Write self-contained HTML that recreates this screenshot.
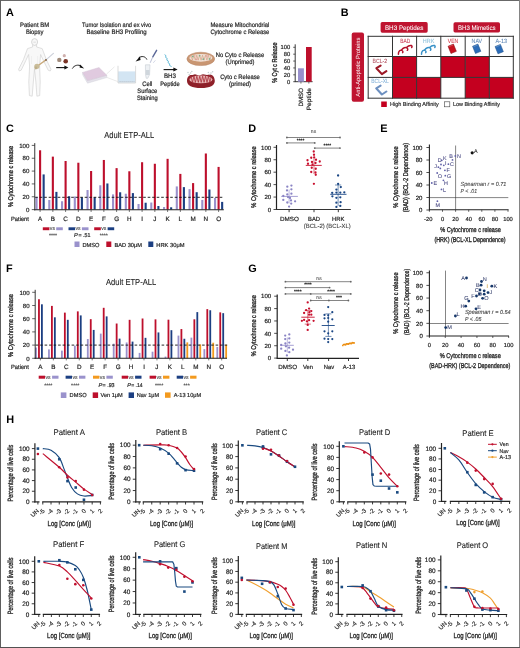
<!DOCTYPE html><html><head><meta charset="utf-8"><style>html,body{margin:0;padding:0;background:#fff}svg{display:block;will-change:transform}text{font-family:"Liberation Sans",sans-serif;text-rendering:geometricPrecision}</style></head><body>
<svg width="520" height="648" viewBox="0 0 520 648">
<rect x="0" y="0" width="520" height="648" fill="#fff"/>
<text x="6.10" y="15.90" font-size="10.9" fill="#000" font-weight="bold">A</text>
<text x="34.60" y="26.90" font-size="6.4" fill="#262626" stroke="#262626" stroke-width="0.2" text-anchor="middle" textLength="29" lengthAdjust="spacingAndGlyphs">Patient BM</text>
<text x="34.70" y="33.80" font-size="6.4" fill="#262626" stroke="#262626" stroke-width="0.2" text-anchor="middle" textLength="17.6" lengthAdjust="spacingAndGlyphs">Biopsy</text>
<text x="116.60" y="27.30" font-size="6.4" fill="#262626" stroke="#262626" stroke-width="0.2" text-anchor="middle" textLength="69.2" lengthAdjust="spacingAndGlyphs">Tumor Isolation and ex vivo</text>
<text x="116.60" y="34.20" font-size="6.4" fill="#262626" stroke="#262626" stroke-width="0.2" text-anchor="middle" textLength="60.1" lengthAdjust="spacingAndGlyphs">Baseline BH3 Profiling</text>
<text x="210.40" y="26.90" font-size="6.4" fill="#262626" stroke="#262626" stroke-width="0.2" textLength="58.9" lengthAdjust="spacingAndGlyphs">Measure Mitochondrial</text>
<text x="210.40" y="34.20" font-size="6.4" fill="#262626" stroke="#262626" stroke-width="0.2" textLength="58.9" lengthAdjust="spacingAndGlyphs">Cytochrome c Release</text>
<path d="M32.6,45 L32.6,47 L27.5,48.6 L23.5,59.5 L18.6,69.3 L19.3,71 L21.2,70.2 L25.8,60.5 L28.6,54.5 L29.6,66 L28.8,82 L29.4,95.6 L32.2,96.2 L33.3,82 L34.5,69 L35.9,82 L36.9,96.2 L39.7,95.6 L40.2,82 L39.6,66 L40.6,54.5 L43.4,60.5 L48.2,70.2 L50.2,71 L51,69.3 L46.3,59.5 L42.2,48.6 L36.6,47 L36.6,45" fill="#f8f8f8" stroke="#d2d2d2" stroke-width="0.7" stroke-linejoin="round"/>
<ellipse cx="34.6" cy="42.0" rx="3.0" ry="3.4" fill="#f8f8f8" stroke="#c8c8c8" stroke-width="0.7"/>
<line x1="33.30" y1="42.20" x2="35.90" y2="42.20" stroke="#d8d8d8" stroke-width="0.8"/>
<line x1="31.50" y1="56.00" x2="31.50" y2="64.00" stroke="#e6e6e6" stroke-width="0.5"/>
<line x1="37.60" y1="56.00" x2="37.60" y2="64.00" stroke="#e6e6e6" stroke-width="0.5"/>
<line x1="37.20" y1="66.20" x2="46.00" y2="59.90" stroke="#c9aa7c" stroke-width="1.3" stroke-linecap="round"/>
<line x1="46.00" y1="59.90" x2="53.40" y2="53.40" stroke="#ccd0da" stroke-width="1.2" stroke-linecap="round"/>
<circle cx="46.00" cy="59.90" r="0.95" fill="#7a5a40"/>
<circle cx="36.90" cy="66.30" r="2.6" fill="#c9bc98"/>
<circle cx="35.80" cy="68.00" r="1.4" fill="#bdae88"/>
<circle cx="64.30" cy="55.70" r="1.6" fill="#cfb0ad"/>
<circle cx="59.30" cy="59.90" r="2.2" fill="#a08a7a"/>
<circle cx="65.70" cy="61.20" r="2.3" fill="#7a3426"/>
<line x1="56.20" y1="67.60" x2="65.50" y2="67.60" stroke="#111" stroke-width="1.1"/>
<path d="M64.4,65.6 L68.4,67.6 L64.4,69.6 Z" fill="#111"/>
<path d="M72.3,68.6 C74,65.2 78.5,64.2 81.3,66.2" fill="none" stroke="#111" stroke-width="0.9"/>
<path d="M80,64.4 L84.2,68.6 L79.6,67.6 Z" fill="#111"/>
<path d="M82.6,72.4 L82.6,74.8 L87.5,83.2 L106.8,77.6 L106.8,75.2 L87.5,80.6 Z" fill="#e4e2ea" stroke="#cfcfd6" stroke-width="0.4"/>
<path d="M82.6,72.4 L99,67.5 L106.8,75.2 L87.5,80.6 Z" fill="#e0cadf" stroke="#d0c0d2" stroke-width="0.4"/>
<line x1="106.40" y1="74.20" x2="114.50" y2="66.80" stroke="#d4d4d4" stroke-width="0.5"/>
<line x1="106.80" y1="77.40" x2="117.60" y2="81.50" stroke="#d4d4d4" stroke-width="0.5"/>
<rect x="118.20" y="71.40" width="17.20" height="11.20" fill="#d3e5f3"/>
<path d="M118,65.8 L118,83 L135.6,83 L135.6,65.8" fill="none" stroke="#c4c4c4" stroke-width="0.6"/>
<line x1="119.50" y1="81.60" x2="134.50" y2="81.60" stroke="#b8bcc4" stroke-width="0.8" stroke-dasharray="1.2,0.8"/>
<path d="M146.9,59.6 C145.5,56.2 141.5,55.6 138.6,58" fill="none" stroke="#111" stroke-width="0.9"/>
<path d="M139.9,56.4 L135.6,61.4 L140.6,60 Z" fill="#111"/>
<line x1="156.60" y1="50.30" x2="152.80" y2="56.80" stroke="#5b6898" stroke-width="1.4" stroke-linecap="round"/>
<line x1="152.80" y1="56.80" x2="150.20" y2="62.80" stroke="#aab0cc" stroke-width="0.8"/>
<line x1="155.40" y1="60.30" x2="153.30" y2="62.80" stroke="#c8cde0" stroke-width="0.8"/>
<path d="M145.4,64.8 L150,64.8 L149.6,74.5 L147.8,78.3 L146.2,78.3 L145.5,74.5 Z" fill="#eef1f4" stroke="#bfc5cc" stroke-width="0.5"/>
<rect x="145.80" y="70.00" width="3.80" height="5.00" fill="#cfd6dc"/>
<path d="M164.6,54.6 L166,55.7 L165.6,57.4 L167.2,58.4 L166.8,60.1 L168.4,61.1 L168.1,62.8 L169.7,63.8 L169.5,65.4 L171.6,66.6" fill="none" stroke="#58b4d4" stroke-width="0.9"/>
<line x1="163.60" y1="69.60" x2="174.50" y2="69.60" stroke="#111" stroke-width="1.1"/>
<path d="M173.4,67.6 L177.6,69.6 L173.4,71.6 Z" fill="#111"/>
<text x="147.30" y="85.70" font-size="6.4" fill="#262626" stroke="#262626" stroke-width="0.2" text-anchor="middle" textLength="10" lengthAdjust="spacingAndGlyphs">Cell</text>
<text x="147.30" y="93.10" font-size="6.4" fill="#262626" stroke="#262626" stroke-width="0.2" text-anchor="middle" textLength="20" lengthAdjust="spacingAndGlyphs">Surface</text>
<text x="147.30" y="100.40" font-size="6.4" fill="#262626" stroke="#262626" stroke-width="0.2" text-anchor="middle" textLength="20.8" lengthAdjust="spacingAndGlyphs">Staining</text>
<text x="170.00" y="78.10" font-size="6.4" fill="#262626" stroke="#262626" stroke-width="0.2" text-anchor="middle" textLength="12" lengthAdjust="spacingAndGlyphs">BH3</text>
<text x="170.00" y="85.70" font-size="6.4" fill="#262626" stroke="#262626" stroke-width="0.2" text-anchor="middle" textLength="19.4" lengthAdjust="spacingAndGlyphs">Peptide</text>
<ellipse cx="200.8" cy="58.9" rx="13.9" ry="6.7" fill="#c99672" stroke="#b58060" stroke-width="0.5"/>
<ellipse cx="200.8" cy="57.8" rx="11.6" ry="3.9" fill="#f1e2d8"/>
<path d="M189.5,58 L190.95,55.20 L192.40,60.20 L193.85,55.20 L195.30,60.20 L196.75,55.20 L198.20,60.20 L199.65,55.20 L201.10,60.20 L202.55,55.20 L204.00,60.20 L205.45,55.20 L206.90,60.20 L208.35,55.20 L209.80,60.20 L211.25,55.20" fill="none" stroke="#d2a284" stroke-width="0.7"/>
<circle cx="192.80" cy="56.40" r="0.85" fill="#7fb08a"/>
<circle cx="196.50" cy="59.40" r="0.85" fill="#e5a0a0"/>
<circle cx="199.60" cy="55.60" r="0.85" fill="#7fb08a"/>
<circle cx="203.20" cy="59.20" r="0.85" fill="#7fb08a"/>
<circle cx="206.80" cy="55.90" r="0.85" fill="#e5a0a0"/>
<circle cx="209.50" cy="58.90" r="0.85" fill="#7fb08a"/>
<circle cx="194.80" cy="55.80" r="0.85" fill="#e8b0a8"/>
<path d="M187,81 C187,76.5 189.5,74.6 192.5,75 L195,74.2 L199,75.4 L203,74.2 L207,75 L209.5,74.4 C212.6,74.4 214.8,77 214.8,81 C214.8,85.6 210,88 201,88 C192,88 187,85.6 187,81 Z" fill="#8e2029"/>
<ellipse cx="200.9" cy="79.4" rx="11.6" ry="3.9" fill="#e9b8b8"/>
<path d="M189.6,79.5 L191.05,76.20 L192.50,82.40 L193.95,76.20 L195.40,82.40 L196.85,76.20 L198.30,82.40 L199.75,76.20 L201.20,82.40 L202.65,76.20 L204.10,82.40 L205.55,76.20 L207.00,82.40 L208.45,76.20 L209.90,82.40 L211.35,76.20" fill="none" stroke="#a8303a" stroke-width="0.8"/>
<circle cx="188.00" cy="72.40" r="0.75" fill="#c4cdd0"/>
<circle cx="190.60" cy="73.00" r="0.75" fill="#c4cdd0"/>
<circle cx="189.20" cy="74.60" r="0.75" fill="#c4cdd0"/>
<circle cx="191.80" cy="71.60" r="0.75" fill="#c4cdd0"/>
<circle cx="208.40" cy="72.60" r="0.75" fill="#c4cdd0"/>
<circle cx="211.00" cy="73.10" r="0.75" fill="#c4cdd0"/>
<circle cx="212.60" cy="71.80" r="0.75" fill="#c4cdd0"/>
<circle cx="209.80" cy="74.40" r="0.75" fill="#c4cdd0"/>
<text x="240.00" y="57.00" font-size="6.4" fill="#262626" stroke="#262626" stroke-width="0.2" text-anchor="middle" textLength="48.4" lengthAdjust="spacingAndGlyphs">No Cyto c Release</text>
<text x="240.00" y="64.20" font-size="6.4" fill="#262626" stroke="#262626" stroke-width="0.2" text-anchor="middle" textLength="28.8" lengthAdjust="spacingAndGlyphs">(Unprimed)</text>
<text x="240.00" y="78.60" font-size="6.4" fill="#262626" stroke="#262626" stroke-width="0.2" text-anchor="middle" textLength="39.7" lengthAdjust="spacingAndGlyphs">Cyto c Release</text>
<text x="240.00" y="85.50" font-size="6.4" fill="#262626" stroke="#262626" stroke-width="0.2" text-anchor="middle" textLength="22" lengthAdjust="spacingAndGlyphs">(primed)</text>
<line x1="295.20" y1="44.30" x2="295.20" y2="81.70" stroke="#222" stroke-width="0.9"/>
<line x1="294.75" y1="81.70" x2="312.60" y2="81.70" stroke="#222" stroke-width="0.9"/>
<line x1="293.20" y1="81.70" x2="295.20" y2="81.70" stroke="#222" stroke-width="0.7"/>
<text x="290.20" y="83.70" font-size="5.8" fill="#262626" stroke="#262626" stroke-width="0.2" text-anchor="end">0</text>
<line x1="293.20" y1="74.82" x2="295.20" y2="74.82" stroke="#222" stroke-width="0.7"/>
<text x="290.20" y="76.82" font-size="5.8" fill="#262626" stroke="#262626" stroke-width="0.2" text-anchor="end">20</text>
<line x1="293.20" y1="67.94" x2="295.20" y2="67.94" stroke="#222" stroke-width="0.7"/>
<text x="290.20" y="69.94" font-size="5.8" fill="#262626" stroke="#262626" stroke-width="0.2" text-anchor="end">40</text>
<line x1="293.20" y1="61.06" x2="295.20" y2="61.06" stroke="#222" stroke-width="0.7"/>
<text x="290.20" y="63.06" font-size="5.8" fill="#262626" stroke="#262626" stroke-width="0.2" text-anchor="end">60</text>
<line x1="293.20" y1="54.18" x2="295.20" y2="54.18" stroke="#222" stroke-width="0.7"/>
<text x="290.20" y="56.18" font-size="5.8" fill="#262626" stroke="#262626" stroke-width="0.2" text-anchor="end">80</text>
<line x1="293.20" y1="47.30" x2="295.20" y2="47.30" stroke="#222" stroke-width="0.7"/>
<text x="290.20" y="49.30" font-size="5.8" fill="#262626" stroke="#262626" stroke-width="0.2" text-anchor="end">100</text>
<rect x="298.00" y="68.30" width="5.90" height="13.40" fill="#9890cc"/>
<rect x="306.00" y="47.00" width="5.70" height="34.70" fill="#bd0f2c"/>
<line x1="300.95" y1="81.70" x2="300.95" y2="83.60" stroke="#222" stroke-width="0.6"/>
<line x1="308.85" y1="81.70" x2="308.85" y2="83.60" stroke="#222" stroke-width="0.6"/>
<text transform="translate(303.10,88.00) rotate(-90)" font-size="6.2" fill="#262626" stroke="#262626" stroke-width="0.2" text-anchor="end" textLength="18.6" lengthAdjust="spacingAndGlyphs">DMSO</text>
<text transform="translate(310.50,88.00) rotate(-90)" font-size="6.2" fill="#262626" stroke="#262626" stroke-width="0.2" text-anchor="end" textLength="22.3" lengthAdjust="spacingAndGlyphs">Peptide</text>
<text transform="translate(277.20,62.60) rotate(-90)" font-size="7.2" fill="#262626" stroke="#262626" stroke-width="0.32" text-anchor="middle" textLength="40.5" lengthAdjust="spacingAndGlyphs">% Cyt c Release</text>
<text x="340.70" y="15.70" font-size="10.9" fill="#000" font-weight="bold">B</text>
<rect x="380.6" y="22.1" width="47.1" height="10.6" rx="1.6" fill="#bf1430"/>
<text x="404.15" y="29.90" font-size="6.4" fill="#fff" stroke="#fff" stroke-width="0.05" text-anchor="middle" textLength="38.5" lengthAdjust="spacingAndGlyphs">BH3 Peptides</text>
<rect x="453.5" y="22.3" width="46.5" height="10.1" rx="1.6" fill="#bf1430"/>
<text x="476.75" y="29.90" font-size="6.4" fill="#fff" stroke="#fff" stroke-width="0.05" text-anchor="middle" textLength="37.5" lengthAdjust="spacingAndGlyphs">BH3 Mimetics</text>
<rect x="351.7" y="32.6" width="12.3" height="69.1" rx="2" fill="#bf1430"/>
<text transform="translate(360.00,67.20) rotate(-90)" font-size="6.0" fill="#fff" text-anchor="middle" textLength="59" lengthAdjust="spacingAndGlyphs">Anti-Apoptotic Proteins</text>
<rect x="392.50" y="56.50" width="24.10" height="20.90" fill="#c4001f"/>
<rect x="440.80" y="56.50" width="24.40" height="20.90" fill="#c4001f"/>
<rect x="465.20" y="56.50" width="24.10" height="20.90" fill="#c4001f"/>
<rect x="392.50" y="77.40" width="24.10" height="20.80" fill="#c4001f"/>
<rect x="416.60" y="77.40" width="24.20" height="20.80" fill="#c4001f"/>
<rect x="465.20" y="77.40" width="24.10" height="20.80" fill="#c4001f"/>
<rect x="489.30" y="77.40" width="24.00" height="20.80" fill="#c4001f"/>
<line x1="368.20" y1="35.80" x2="368.20" y2="98.70" stroke="#333" stroke-width="1.0"/>
<line x1="392.50" y1="35.80" x2="392.50" y2="98.70" stroke="#333" stroke-width="1.0"/>
<line x1="416.60" y1="35.80" x2="416.60" y2="98.70" stroke="#333" stroke-width="1.0"/>
<line x1="440.80" y1="35.80" x2="440.80" y2="98.70" stroke="#333" stroke-width="1.0"/>
<line x1="465.20" y1="35.80" x2="465.20" y2="98.70" stroke="#333" stroke-width="1.0"/>
<line x1="489.30" y1="35.80" x2="489.30" y2="98.70" stroke="#333" stroke-width="1.0"/>
<line x1="513.30" y1="35.80" x2="513.30" y2="98.70" stroke="#333" stroke-width="1.0"/>
<line x1="367.70" y1="36.30" x2="513.80" y2="36.30" stroke="#333" stroke-width="1.0"/>
<line x1="367.70" y1="56.50" x2="513.80" y2="56.50" stroke="#333" stroke-width="1.0"/>
<line x1="367.70" y1="77.40" x2="513.80" y2="77.40" stroke="#333" stroke-width="1.0"/>
<line x1="367.70" y1="98.20" x2="513.80" y2="98.20" stroke="#333" stroke-width="1.0"/>
<text x="405.20" y="42.50" font-size="6.0" fill="#c8304c" stroke="#c8304c" stroke-width="0.05" text-anchor="middle" textLength="10.1" lengthAdjust="spacingAndGlyphs">BAD</text>
<text x="428.60" y="42.50" font-size="6.0" fill="#86bcd8" stroke="#86bcd8" stroke-width="0.05" text-anchor="middle" textLength="11.5" lengthAdjust="spacingAndGlyphs">HRK</text>
<text x="453.00" y="42.50" font-size="6.0" fill="#d0303e" stroke="#d0303e" stroke-width="0.05" text-anchor="middle" textLength="10.4" lengthAdjust="spacingAndGlyphs">VEN</text>
<text x="476.80" y="42.50" font-size="6.0" fill="#5a84b4" stroke="#5a84b4" stroke-width="0.05" text-anchor="middle" textLength="10.4" lengthAdjust="spacingAndGlyphs">NAV</text>
<text x="501.20" y="42.50" font-size="6.0" fill="#5a84b4" stroke="#5a84b4" stroke-width="0.05" text-anchor="middle" textLength="11.6" lengthAdjust="spacingAndGlyphs">A-13</text>
<path d="M398.40,54.2 C398.20,51 400.50,49.5 402.00,50.5 C403.00,51.2 403.20,52.3 402.60,52.6 M401.50,50.2 C403.00,47.8 405.50,47 407.00,48 C408.00,48.8 407.90,50 407.30,50.3 M406.50,47.6 C408.00,46 410.00,45.2 411.60,45.6 C412.20,46 412.10,47 411.70,47.4" fill="none" stroke="#b3102a" stroke-width="1.5" stroke-linecap="round"/>
<path d="M421.50,54.2 C421.30,51 423.60,49.5 425.10,50.5 C426.10,51.2 426.30,52.3 425.70,52.6 M424.60,50.2 C426.10,47.8 428.60,47 430.10,48 C431.10,48.8 431.00,50 430.40,50.3 M429.60,47.6 C431.10,46 433.10,45.2 434.70,45.6 C435.30,46 435.20,47 434.80,47.4" fill="none" stroke="#3a92c8" stroke-width="1.5" stroke-linecap="round"/>
<g transform="translate(452.2,48.8) rotate(-22)"><rect x="-2.9" y="-3.9" width="5.8" height="7.8" fill="#c8101c" stroke="#8a0c14" stroke-width="0.5"/><line x1="-2.3" y1="-3.2" x2="2.3" y2="-3.2" stroke="#fff" stroke-opacity="0.35" stroke-width="0.6"/></g>
<g transform="translate(476.7,48.8) rotate(-22)"><rect x="-2.9" y="-3.9" width="5.8" height="7.8" fill="#2b6cb8" stroke="#1d4f8c" stroke-width="0.5"/><line x1="-2.3" y1="-3.2" x2="2.3" y2="-3.2" stroke="#fff" stroke-opacity="0.35" stroke-width="0.6"/></g>
<g transform="translate(499.2,49.1) rotate(-22)"><rect x="-2.9" y="-3.9" width="5.8" height="7.8" fill="#2b6cb8" stroke="#1d4f8c" stroke-width="0.5"/><line x1="-2.3" y1="-3.2" x2="2.3" y2="-3.2" stroke="#fff" stroke-opacity="0.35" stroke-width="0.6"/></g>
<text x="379.80" y="62.60" font-size="6.0" fill="#b04858" stroke="#b04858" stroke-width="0.05" text-anchor="middle" textLength="14.6" lengthAdjust="spacingAndGlyphs">BCL-2</text>
<text x="380.00" y="83.20" font-size="6.0" fill="#80b0d8" stroke="#80b0d8" stroke-width="0.05" text-anchor="middle" textLength="17.7" lengthAdjust="spacingAndGlyphs">BCL-XL</text>
<path d="M380.6,65.6 L376.4,68.2 L381.9,74.1 L386.4,71.2" fill="none" stroke="#9c1826" stroke-width="2.1" stroke-linejoin="round" stroke-linecap="round"/>
<path d="M380.6,85.7 L376.2,88.3 L381.9,94.5 L386.4,91.5" fill="none" stroke="#6d90c0" stroke-width="2.1" stroke-linejoin="round" stroke-linecap="round"/>
<rect x="381.20" y="101.50" width="5.60" height="5.50" fill="#c4001f"/>
<text x="390.00" y="106.40" font-size="5.7" fill="#333" stroke="#333" stroke-width="0.2" textLength="48.7" lengthAdjust="spacingAndGlyphs">High Binding Affinity</text>
<rect x="444.60" y="101.80" width="5.20" height="5.00" fill="#fff" stroke="#444" stroke-width="0.6"/>
<text x="453.00" y="106.40" font-size="5.7" fill="#333" stroke="#333" stroke-width="0.2" textLength="47" lengthAdjust="spacingAndGlyphs">Low Binding Affinity</text>
<text x="5.90" y="131.70" font-size="10.9" fill="#000" font-weight="bold">C</text>
<text x="129.20" y="137.80" font-size="8.7" fill="#222" stroke="#222" stroke-width="0.1" text-anchor="middle" textLength="50" lengthAdjust="spacingAndGlyphs">Adult ETP-ALL</text>
<rect x="35.50" y="196.89" width="2.10" height="12.71" fill="#9a92cc"/>
<rect x="39.05" y="150.28" width="2.10" height="59.32" fill="#bd0f2c"/>
<rect x="42.60" y="174.42" width="2.10" height="35.18" fill="#1c3f82"/>
<line x1="40.10" y1="209.80" x2="40.10" y2="212.00" stroke="#222" stroke-width="0.6"/>
<text x="40.10" y="220.80" font-size="6.3" fill="#262626" stroke="#262626" stroke-width="0.2" text-anchor="middle">A</text>
<rect x="48.25" y="199.97" width="2.10" height="9.63" fill="#9a92cc"/>
<rect x="51.80" y="156.63" width="2.10" height="52.97" fill="#bd0f2c"/>
<rect x="55.35" y="191.88" width="2.10" height="17.72" fill="#1c3f82"/>
<line x1="52.85" y1="209.80" x2="52.85" y2="212.00" stroke="#222" stroke-width="0.6"/>
<text x="52.85" y="220.80" font-size="6.3" fill="#262626" stroke="#262626" stroke-width="0.2" text-anchor="middle">B</text>
<rect x="61.00" y="201.25" width="2.10" height="8.35" fill="#9a92cc"/>
<rect x="64.55" y="161.00" width="2.10" height="48.60" fill="#bd0f2c"/>
<rect x="68.10" y="196.25" width="2.10" height="13.35" fill="#1c3f82"/>
<line x1="65.60" y1="209.80" x2="65.60" y2="212.00" stroke="#222" stroke-width="0.6"/>
<text x="65.60" y="220.80" font-size="6.3" fill="#262626" stroke="#262626" stroke-width="0.2" text-anchor="middle">C</text>
<rect x="73.75" y="196.50" width="2.10" height="13.10" fill="#9a92cc"/>
<rect x="77.30" y="162.73" width="2.10" height="46.87" fill="#bd0f2c"/>
<rect x="80.85" y="197.27" width="2.10" height="12.33" fill="#1c3f82"/>
<line x1="78.35" y1="209.80" x2="78.35" y2="212.00" stroke="#222" stroke-width="0.6"/>
<text x="78.35" y="220.80" font-size="6.3" fill="#262626" stroke="#262626" stroke-width="0.2" text-anchor="middle">D</text>
<rect x="86.50" y="190.02" width="2.10" height="19.58" fill="#9a92cc"/>
<rect x="90.05" y="171.02" width="2.10" height="38.58" fill="#bd0f2c"/>
<rect x="93.60" y="197.27" width="2.10" height="12.33" fill="#1c3f82"/>
<line x1="91.10" y1="209.80" x2="91.10" y2="212.00" stroke="#222" stroke-width="0.6"/>
<text x="91.10" y="220.80" font-size="6.3" fill="#262626" stroke="#262626" stroke-width="0.2" text-anchor="middle">E</text>
<rect x="99.25" y="185.27" width="2.10" height="24.33" fill="#9a92cc"/>
<rect x="102.80" y="159.97" width="2.10" height="49.63" fill="#bd0f2c"/>
<rect x="106.35" y="183.47" width="2.10" height="26.13" fill="#1c3f82"/>
<line x1="103.85" y1="209.80" x2="103.85" y2="212.00" stroke="#222" stroke-width="0.6"/>
<text x="103.85" y="220.80" font-size="6.3" fill="#262626" stroke="#262626" stroke-width="0.2" text-anchor="middle">F</text>
<rect x="112.00" y="194.38" width="2.10" height="15.22" fill="#9a92cc"/>
<rect x="115.55" y="168.13" width="2.10" height="41.47" fill="#bd0f2c"/>
<rect x="119.10" y="192.27" width="2.10" height="17.33" fill="#1c3f82"/>
<line x1="116.60" y1="209.80" x2="116.60" y2="212.00" stroke="#222" stroke-width="0.6"/>
<text x="116.60" y="220.80" font-size="6.3" fill="#262626" stroke="#262626" stroke-width="0.2" text-anchor="middle">G</text>
<rect x="124.75" y="193.74" width="2.10" height="15.86" fill="#9a92cc"/>
<rect x="128.30" y="171.27" width="2.10" height="38.33" fill="#bd0f2c"/>
<rect x="131.85" y="193.10" width="2.10" height="16.50" fill="#1c3f82"/>
<line x1="129.35" y1="209.80" x2="129.35" y2="212.00" stroke="#222" stroke-width="0.6"/>
<text x="129.35" y="220.80" font-size="6.3" fill="#262626" stroke="#262626" stroke-width="0.2" text-anchor="middle">H</text>
<rect x="137.50" y="204.01" width="2.10" height="5.59" fill="#9a92cc"/>
<rect x="141.05" y="162.22" width="2.10" height="47.38" fill="#bd0f2c"/>
<rect x="144.60" y="202.73" width="2.10" height="6.87" fill="#1c3f82"/>
<line x1="142.10" y1="209.80" x2="142.10" y2="212.00" stroke="#222" stroke-width="0.6"/>
<text x="142.10" y="220.80" font-size="6.3" fill="#262626" stroke="#262626" stroke-width="0.2" text-anchor="middle">I</text>
<rect x="150.25" y="202.54" width="2.10" height="7.06" fill="#9a92cc"/>
<rect x="153.80" y="163.76" width="2.10" height="45.84" fill="#bd0f2c"/>
<rect x="157.35" y="206.00" width="2.10" height="3.60" fill="#1c3f82"/>
<line x1="154.85" y1="209.80" x2="154.85" y2="212.00" stroke="#222" stroke-width="0.6"/>
<text x="154.85" y="220.80" font-size="6.3" fill="#262626" stroke="#262626" stroke-width="0.2" text-anchor="middle">J</text>
<rect x="163.00" y="207.03" width="2.10" height="2.57" fill="#9a92cc"/>
<rect x="166.55" y="158.82" width="2.10" height="50.78" fill="#bd0f2c"/>
<rect x="170.10" y="207.29" width="2.10" height="2.31" fill="#1c3f82"/>
<line x1="167.60" y1="209.80" x2="167.60" y2="212.00" stroke="#222" stroke-width="0.6"/>
<text x="167.60" y="220.80" font-size="6.3" fill="#262626" stroke="#262626" stroke-width="0.2" text-anchor="middle">K</text>
<rect x="175.75" y="186.42" width="2.10" height="23.18" fill="#9a92cc"/>
<rect x="179.30" y="173.90" width="2.10" height="35.70" fill="#bd0f2c"/>
<rect x="182.85" y="187.13" width="2.10" height="22.47" fill="#1c3f82"/>
<line x1="180.35" y1="209.80" x2="180.35" y2="212.00" stroke="#222" stroke-width="0.6"/>
<text x="180.35" y="220.80" font-size="6.3" fill="#262626" stroke="#262626" stroke-width="0.2" text-anchor="middle">L</text>
<rect x="188.50" y="189.12" width="2.10" height="20.48" fill="#9a92cc"/>
<rect x="192.05" y="183.09" width="2.10" height="26.51" fill="#bd0f2c"/>
<rect x="195.60" y="192.20" width="2.10" height="17.40" fill="#1c3f82"/>
<line x1="193.10" y1="209.80" x2="193.10" y2="212.00" stroke="#222" stroke-width="0.6"/>
<text x="193.10" y="220.80" font-size="6.3" fill="#262626" stroke="#262626" stroke-width="0.2" text-anchor="middle">M</text>
<rect x="201.25" y="199.91" width="2.10" height="9.69" fill="#9a92cc"/>
<rect x="204.80" y="153.49" width="2.10" height="56.11" fill="#bd0f2c"/>
<rect x="208.35" y="189.51" width="2.10" height="20.09" fill="#1c3f82"/>
<line x1="205.85" y1="209.80" x2="205.85" y2="212.00" stroke="#222" stroke-width="0.6"/>
<text x="205.85" y="220.80" font-size="6.3" fill="#262626" stroke="#262626" stroke-width="0.2" text-anchor="middle">N</text>
<rect x="214.00" y="197.92" width="2.10" height="11.68" fill="#9a92cc"/>
<rect x="217.55" y="166.91" width="2.10" height="42.69" fill="#bd0f2c"/>
<rect x="221.10" y="201.90" width="2.10" height="7.70" fill="#1c3f82"/>
<line x1="218.60" y1="209.80" x2="218.60" y2="212.00" stroke="#222" stroke-width="0.6"/>
<text x="218.60" y="220.80" font-size="6.3" fill="#262626" stroke="#262626" stroke-width="0.2" text-anchor="middle">O</text>
<line x1="35.20" y1="197.30" x2="224.00" y2="197.30" stroke="#111" stroke-width="0.9" stroke-dasharray="2.6,1.9"/>
<line x1="34.75" y1="143.10" x2="34.75" y2="210.40" stroke="#222" stroke-width="0.9"/>
<line x1="34.30" y1="209.80" x2="223.80" y2="209.80" stroke="#222" stroke-width="1.1"/>
<line x1="31.75" y1="209.60" x2="34.75" y2="209.60" stroke="#222" stroke-width="0.7"/>
<text x="29.40" y="211.80" font-size="6.1" fill="#262626" stroke="#262626" stroke-width="0.2" text-anchor="end">0</text>
<line x1="31.75" y1="196.76" x2="34.75" y2="196.76" stroke="#222" stroke-width="0.7"/>
<text x="29.40" y="198.96" font-size="6.1" fill="#262626" stroke="#262626" stroke-width="0.2" text-anchor="end">20</text>
<line x1="31.75" y1="183.92" x2="34.75" y2="183.92" stroke="#222" stroke-width="0.7"/>
<text x="29.40" y="186.12" font-size="6.1" fill="#262626" stroke="#262626" stroke-width="0.2" text-anchor="end">40</text>
<line x1="31.75" y1="171.08" x2="34.75" y2="171.08" stroke="#222" stroke-width="0.7"/>
<text x="29.40" y="173.28" font-size="6.1" fill="#262626" stroke="#262626" stroke-width="0.2" text-anchor="end">60</text>
<line x1="31.75" y1="158.24" x2="34.75" y2="158.24" stroke="#222" stroke-width="0.7"/>
<text x="29.40" y="160.44" font-size="6.1" fill="#262626" stroke="#262626" stroke-width="0.2" text-anchor="end">80</text>
<line x1="31.75" y1="145.40" x2="34.75" y2="145.40" stroke="#222" stroke-width="0.7"/>
<text x="29.40" y="147.60" font-size="6.1" fill="#262626" stroke="#262626" stroke-width="0.2" text-anchor="end">100</text>
<text transform="translate(12.90,176.40) rotate(-90)" font-size="7" fill="#262626" stroke="#262626" stroke-width="0.32" text-anchor="middle" textLength="61.3" lengthAdjust="spacingAndGlyphs">% Cytochrome c release</text>
<text x="11.00" y="220.70" font-size="6.2" fill="#262626" stroke="#262626" stroke-width="0.2" textLength="17.9" lengthAdjust="spacingAndGlyphs">Patient</text>
<rect x="42.80" y="227.30" width="6.60" height="2.90" fill="#bd0f2c"/>
<text x="49.80" y="230.30" font-size="5.4" fill="#444" stroke="#444" stroke-width="0.1" textLength="5.2" lengthAdjust="spacingAndGlyphs">vs</text>
<rect x="56.20" y="227.30" width="6.60" height="2.90" fill="#9a92cc"/>
<rect x="68.50" y="227.30" width="6.60" height="2.90" fill="#1c3f82"/>
<text x="75.50" y="230.30" font-size="5.4" fill="#444" stroke="#444" stroke-width="0.1" textLength="5.2" lengthAdjust="spacingAndGlyphs">vs</text>
<rect x="81.90" y="227.30" width="6.60" height="2.90" fill="#9a92cc"/>
<rect x="94.20" y="227.30" width="6.60" height="2.90" fill="#bd0f2c"/>
<text x="101.20" y="230.30" font-size="5.4" fill="#444" stroke="#444" stroke-width="0.1" textLength="5.2" lengthAdjust="spacingAndGlyphs">vs</text>
<rect x="107.60" y="227.30" width="6.60" height="2.90" fill="#1c3f82"/>
<text x="53.00" y="237.00" font-size="5" fill="#555" stroke="#555" stroke-width="0.2" text-anchor="middle" textLength="8.2" lengthAdjust="spacingAndGlyphs">****</text>
<text x="103.80" y="237.00" font-size="5" fill="#555" stroke="#555" stroke-width="0.2" text-anchor="middle" textLength="8.2" lengthAdjust="spacingAndGlyphs">****</text>
<text x="77.70" y="236.60" font-size="5.6" fill="#262626" stroke="#262626" stroke-width="0.2" text-anchor="end" font-style="italic">P</text>
<text x="78.40" y="236.60" font-size="5.6" fill="#262626" stroke="#262626" stroke-width="0.2" textLength="12" lengthAdjust="spacingAndGlyphs">= .51</text>
<rect x="74.50" y="241.50" width="5.00" height="5.50" fill="#9a92cc"/>
<text x="82.50" y="246.60" font-size="5.8" fill="#262626" stroke="#262626" stroke-width="0.2" textLength="17" lengthAdjust="spacingAndGlyphs">DMSO</text>
<rect x="106.30" y="241.50" width="5.00" height="5.50" fill="#bd0f2c"/>
<text x="114.50" y="246.60" font-size="5.8" fill="#262626" stroke="#262626" stroke-width="0.2" textLength="27.5" lengthAdjust="spacingAndGlyphs">BAD 30μM</text>
<rect x="148.30" y="241.50" width="5.00" height="5.50" fill="#1c3f82"/>
<text x="156.30" y="246.60" font-size="5.8" fill="#262626" stroke="#262626" stroke-width="0.2" textLength="28.2" lengthAdjust="spacingAndGlyphs">HRK 30μM</text>
<text x="248.20" y="131.50" font-size="10.9" fill="#000" font-weight="bold">D</text>
<circle cx="287.30" cy="186.70" r="1.15" fill="#8a84c4"/>
<circle cx="291.40" cy="185.60" r="1.15" fill="#8a84c4"/>
<circle cx="287.00" cy="190.40" r="1.15" fill="#8a84c4"/>
<circle cx="291.40" cy="189.30" r="1.15" fill="#8a84c4"/>
<circle cx="287.30" cy="194.40" r="1.15" fill="#8a84c4"/>
<circle cx="291.40" cy="193.70" r="1.15" fill="#8a84c4"/>
<circle cx="283.30" cy="196.00" r="1.15" fill="#8a84c4"/>
<circle cx="288.00" cy="197.10" r="1.15" fill="#8a84c4"/>
<circle cx="290.00" cy="198.00" r="1.15" fill="#8a84c4"/>
<circle cx="283.30" cy="199.90" r="1.15" fill="#8a84c4"/>
<circle cx="291.00" cy="200.40" r="1.15" fill="#8a84c4"/>
<circle cx="295.10" cy="201.30" r="1.15" fill="#8a84c4"/>
<circle cx="287.30" cy="202.50" r="1.15" fill="#8a84c4"/>
<circle cx="291.20" cy="203.60" r="1.15" fill="#8a84c4"/>
<circle cx="289.10" cy="206.60" r="1.15" fill="#8a84c4"/>
<line x1="281.20" y1="196.40" x2="297.90" y2="196.40" stroke="#8f88c8" stroke-width="0.8"/>
<line x1="289.10" y1="189.50" x2="289.10" y2="203.50" stroke="#8f88c8" stroke-width="0.6"/>
<circle cx="313.75" cy="151.50" r="1.15" fill="#c8102e"/>
<circle cx="314.00" cy="154.75" r="1.15" fill="#c8102e"/>
<circle cx="311.25" cy="157.75" r="1.15" fill="#c8102e"/>
<circle cx="314.20" cy="157.30" r="1.15" fill="#c8102e"/>
<circle cx="316.00" cy="159.75" r="1.15" fill="#c8102e"/>
<circle cx="307.50" cy="160.25" r="1.15" fill="#c8102e"/>
<circle cx="319.75" cy="161.50" r="1.15" fill="#c8102e"/>
<circle cx="312.00" cy="162.00" r="1.15" fill="#c8102e"/>
<circle cx="315.50" cy="163.00" r="1.15" fill="#c8102e"/>
<circle cx="308.00" cy="163.75" r="1.15" fill="#c8102e"/>
<circle cx="312.50" cy="164.50" r="1.15" fill="#c8102e"/>
<circle cx="311.75" cy="167.75" r="1.15" fill="#c8102e"/>
<circle cx="315.75" cy="168.75" r="1.15" fill="#c8102e"/>
<circle cx="311.25" cy="172.00" r="1.15" fill="#c8102e"/>
<circle cx="315.50" cy="172.50" r="1.15" fill="#c8102e"/>
<circle cx="315.75" cy="174.75" r="1.15" fill="#c8102e"/>
<circle cx="313.90" cy="183.80" r="1.15" fill="#c8102e"/>
<line x1="305.75" y1="165.40" x2="321.75" y2="165.40" stroke="#c8102e" stroke-width="0.9"/>
<line x1="314.00" y1="157.00" x2="314.00" y2="174.00" stroke="#c8102e" stroke-width="0.6"/>
<circle cx="338.10" cy="175.50" r="1.15" fill="#1a4684"/>
<circle cx="338.10" cy="183.90" r="1.15" fill="#1a4684"/>
<circle cx="340.80" cy="187.10" r="1.15" fill="#1a4684"/>
<circle cx="336.40" cy="189.60" r="1.15" fill="#1a4684"/>
<circle cx="332.20" cy="192.80" r="1.15" fill="#1a4684"/>
<circle cx="336.40" cy="192.60" r="1.15" fill="#1a4684"/>
<circle cx="340.30" cy="192.60" r="1.15" fill="#1a4684"/>
<circle cx="344.30" cy="192.30" r="1.15" fill="#1a4684"/>
<circle cx="332.40" cy="196.30" r="1.15" fill="#1a4684"/>
<circle cx="336.40" cy="197.80" r="1.15" fill="#1a4684"/>
<circle cx="340.30" cy="197.30" r="1.15" fill="#1a4684"/>
<circle cx="336.40" cy="202.70" r="1.15" fill="#1a4684"/>
<circle cx="340.60" cy="202.20" r="1.15" fill="#1a4684"/>
<circle cx="336.40" cy="206.90" r="1.15" fill="#1a4684"/>
<circle cx="340.30" cy="205.90" r="1.15" fill="#1a4684"/>
<line x1="330.20" y1="194.30" x2="346.50" y2="194.30" stroke="#1a4684" stroke-width="0.9"/>
<line x1="338.10" y1="185.00" x2="338.10" y2="206.00" stroke="#1a4684" stroke-width="0.6"/>
<line x1="335.00" y1="185.00" x2="341.20" y2="185.00" stroke="#1a4684" stroke-width="0.6"/>
<line x1="276.50" y1="145.00" x2="276.50" y2="210.00" stroke="#222" stroke-width="1.2"/>
<line x1="276.00" y1="209.50" x2="350.80" y2="209.50" stroke="#333" stroke-width="1.2"/>
<line x1="273.50" y1="209.50" x2="276.50" y2="209.50" stroke="#222" stroke-width="0.8"/>
<text x="271.20" y="211.70" font-size="6.1" fill="#262626" stroke="#262626" stroke-width="0.2" text-anchor="end">0</text>
<line x1="273.50" y1="197.06" x2="276.50" y2="197.06" stroke="#222" stroke-width="0.8"/>
<text x="271.20" y="199.26" font-size="6.1" fill="#262626" stroke="#262626" stroke-width="0.2" text-anchor="end">20</text>
<line x1="273.50" y1="184.62" x2="276.50" y2="184.62" stroke="#222" stroke-width="0.8"/>
<text x="271.20" y="186.82" font-size="6.1" fill="#262626" stroke="#262626" stroke-width="0.2" text-anchor="end">40</text>
<line x1="273.50" y1="172.18" x2="276.50" y2="172.18" stroke="#222" stroke-width="0.8"/>
<text x="271.20" y="174.38" font-size="6.1" fill="#262626" stroke="#262626" stroke-width="0.2" text-anchor="end">60</text>
<line x1="273.50" y1="159.74" x2="276.50" y2="159.74" stroke="#222" stroke-width="0.8"/>
<text x="271.20" y="161.94" font-size="6.1" fill="#262626" stroke="#262626" stroke-width="0.2" text-anchor="end">80</text>
<line x1="273.50" y1="147.30" x2="276.50" y2="147.30" stroke="#222" stroke-width="0.8"/>
<text x="271.20" y="149.50" font-size="6.1" fill="#262626" stroke="#262626" stroke-width="0.2" text-anchor="end">100</text>
<line x1="289.10" y1="209.50" x2="289.10" y2="212.20" stroke="#222" stroke-width="0.9"/>
<line x1="314.00" y1="209.50" x2="314.00" y2="212.20" stroke="#222" stroke-width="0.9"/>
<line x1="338.30" y1="209.50" x2="338.30" y2="212.20" stroke="#222" stroke-width="0.9"/>
<text transform="translate(255.60,177.00) rotate(-90)" font-size="7" fill="#262626" stroke="#262626" stroke-width="0.32" text-anchor="middle" textLength="61.3" lengthAdjust="spacingAndGlyphs">% Cytochrome c release</text>
<text x="289.50" y="220.80" font-size="6" fill="#262626" stroke="#262626" stroke-width="0.2" text-anchor="middle" textLength="18.9" lengthAdjust="spacingAndGlyphs">DMSO</text>
<text x="314.00" y="220.80" font-size="6" fill="#262626" stroke="#262626" stroke-width="0.2" text-anchor="middle" textLength="12" lengthAdjust="spacingAndGlyphs">BAD</text>
<text x="338.20" y="220.70" font-size="6" fill="#262626" stroke="#262626" stroke-width="0.2" text-anchor="middle" textLength="12.3" lengthAdjust="spacingAndGlyphs">HRK</text>
<text x="314.30" y="227.60" font-size="6" fill="#444" stroke="#444" stroke-width="0.12" text-anchor="middle" textLength="20.9" lengthAdjust="spacingAndGlyphs">(BCL-2)</text>
<text x="338.50" y="227.90" font-size="6" fill="#444" stroke="#444" stroke-width="0.12" text-anchor="middle" textLength="24.3" lengthAdjust="spacingAndGlyphs">(BCL-XL)</text>
<line x1="286.90" y1="137.50" x2="340.00" y2="137.50" stroke="#666" stroke-width="0.8"/>
<circle cx="286.90" cy="137.50" r="0.9" fill="#666"/>
<circle cx="340.00" cy="137.50" r="0.9" fill="#666"/>
<text x="313.50" y="133.20" font-size="5" fill="#555" stroke="#555" stroke-width="0.1" text-anchor="middle">ns</text>
<line x1="286.90" y1="142.90" x2="314.75" y2="142.90" stroke="#666" stroke-width="0.8"/>
<circle cx="286.90" cy="142.90" r="0.9" fill="#666"/>
<circle cx="314.75" cy="142.90" r="0.9" fill="#666"/>
<text x="300.60" y="141.80" font-size="4.8" fill="#262626" stroke="#262626" stroke-width="0.2" text-anchor="middle" textLength="7.5" lengthAdjust="spacingAndGlyphs">****</text>
<line x1="314.75" y1="148.10" x2="340.00" y2="148.10" stroke="#666" stroke-width="0.8"/>
<circle cx="314.75" cy="148.10" r="0.9" fill="#666"/>
<circle cx="340.00" cy="148.10" r="0.9" fill="#666"/>
<text x="327.30" y="147.10" font-size="4.8" fill="#262626" stroke="#262626" stroke-width="0.2" text-anchor="middle" textLength="7.5" lengthAdjust="spacingAndGlyphs">****</text>
<text x="380.20" y="131.60" font-size="10.9" fill="#000" font-weight="bold">E</text>
<line x1="429.40" y1="144.60" x2="429.40" y2="210.30" stroke="#222" stroke-width="1.1"/>
<line x1="429.00" y1="209.80" x2="508.60" y2="209.80" stroke="#222" stroke-width="1.1"/>
<line x1="426.40" y1="210.00" x2="429.40" y2="210.00" stroke="#222" stroke-width="0.8"/>
<text x="422.40" y="212.16" font-size="6.0" fill="#262626" stroke="#262626" stroke-width="0.2" text-anchor="end">0</text>
<line x1="426.40" y1="197.50" x2="429.40" y2="197.50" stroke="#222" stroke-width="0.8"/>
<text x="422.40" y="199.66" font-size="6.0" fill="#262626" stroke="#262626" stroke-width="0.2" text-anchor="end">20</text>
<line x1="426.40" y1="185.00" x2="429.40" y2="185.00" stroke="#222" stroke-width="0.8"/>
<text x="422.40" y="187.16" font-size="6.0" fill="#262626" stroke="#262626" stroke-width="0.2" text-anchor="end">40</text>
<line x1="426.40" y1="172.50" x2="429.40" y2="172.50" stroke="#222" stroke-width="0.8"/>
<text x="422.40" y="174.66" font-size="6.0" fill="#262626" stroke="#262626" stroke-width="0.2" text-anchor="end">60</text>
<line x1="426.40" y1="160.00" x2="429.40" y2="160.00" stroke="#222" stroke-width="0.8"/>
<text x="422.40" y="162.16" font-size="6.0" fill="#262626" stroke="#262626" stroke-width="0.2" text-anchor="end">80</text>
<line x1="426.40" y1="147.50" x2="429.40" y2="147.50" stroke="#222" stroke-width="0.8"/>
<text x="422.40" y="149.66" font-size="6.0" fill="#262626" stroke="#262626" stroke-width="0.2" text-anchor="end">100</text>
<line x1="429.40" y1="209.80" x2="429.40" y2="211.80" stroke="#222" stroke-width="0.7"/>
<text x="428.20" y="220.80" font-size="5.8" fill="#262626" stroke="#262626" stroke-width="0.2" text-anchor="middle">-20</text>
<line x1="442.50" y1="209.80" x2="442.50" y2="211.80" stroke="#222" stroke-width="0.7"/>
<text x="442.50" y="220.80" font-size="5.8" fill="#262626" stroke="#262626" stroke-width="0.2" text-anchor="middle">0</text>
<line x1="455.60" y1="209.80" x2="455.60" y2="211.80" stroke="#222" stroke-width="0.7"/>
<text x="455.60" y="220.80" font-size="5.8" fill="#262626" stroke="#262626" stroke-width="0.2" text-anchor="middle">20</text>
<line x1="468.70" y1="209.80" x2="468.70" y2="211.80" stroke="#222" stroke-width="0.7"/>
<text x="468.70" y="220.80" font-size="5.8" fill="#262626" stroke="#262626" stroke-width="0.2" text-anchor="middle">40</text>
<line x1="481.80" y1="209.80" x2="481.80" y2="211.80" stroke="#222" stroke-width="0.7"/>
<text x="481.80" y="220.80" font-size="5.8" fill="#262626" stroke="#262626" stroke-width="0.2" text-anchor="middle">60</text>
<line x1="494.90" y1="209.80" x2="494.90" y2="211.80" stroke="#222" stroke-width="0.7"/>
<text x="494.90" y="220.80" font-size="5.8" fill="#262626" stroke="#262626" stroke-width="0.2" text-anchor="middle">80</text>
<line x1="508.00" y1="209.80" x2="508.00" y2="211.80" stroke="#222" stroke-width="0.7"/>
<text x="508.00" y="220.80" font-size="5.8" fill="#262626" stroke="#262626" stroke-width="0.2" text-anchor="middle">100</text>
<line x1="455.60" y1="145.50" x2="455.60" y2="209.80" stroke="#333" stroke-width="0.6"/>
<line x1="429.40" y1="197.60" x2="508.30" y2="197.60" stroke="#333" stroke-width="0.6"/>
<circle cx="472.20" cy="152.80" r="1.6" fill="#111"/>
<text x="474.00" y="153.40" font-size="5.4" fill="#222" stroke="#222" stroke-width="0.08">A</text>
<circle cx="441.80" cy="160.30" r="0.9" fill="#6262aa"/>
<text x="443.00" y="159.80" font-size="5.4" fill="#4a4a84" stroke="#4a4a84" stroke-width="0.08">K</text>
<circle cx="452.50" cy="159.90" r="0.9" fill="#6262aa"/>
<text x="449.30" y="157.50" font-size="5.4" fill="#4a4a84" stroke="#4a4a84" stroke-width="0.08">B</text>
<circle cx="455.30" cy="156.00" r="0.9" fill="#6262aa"/>
<text x="456.90" y="158.10" font-size="5.4" fill="#4a4a84" stroke="#4a4a84" stroke-width="0.08">N</text>
<circle cx="441.00" cy="164.50" r="0.9" fill="#6262aa"/>
<text x="437.80" y="162.10" font-size="5.4" fill="#4a4a84" stroke="#4a4a84" stroke-width="0.08">D</text>
<circle cx="443.80" cy="165.30" r="0.9" fill="#6262aa"/>
<text x="445.00" y="164.80" font-size="5.4" fill="#4a4a84" stroke="#4a4a84" stroke-width="0.08">I</text>
<circle cx="448.40" cy="164.20" r="0.9" fill="#6262aa"/>
<text x="450.00" y="166.30" font-size="5.4" fill="#4a4a84" stroke="#4a4a84" stroke-width="0.08">C</text>
<circle cx="438.40" cy="167.20" r="0.9" fill="#6262aa"/>
<text x="434.20" y="168.40" font-size="5.4" fill="#4a4a84" stroke="#4a4a84" stroke-width="0.08">J</text>
<circle cx="440.30" cy="168.40" r="0.9" fill="#6262aa"/>
<circle cx="444.90" cy="170.30" r="0.9" fill="#6262aa"/>
<text x="446.50" y="172.40" font-size="5.4" fill="#4a4a84" stroke="#4a4a84" stroke-width="0.08">F</text>
<circle cx="437.20" cy="173.00" r="0.9" fill="#6262aa"/>
<text x="437.80" y="177.80" font-size="5.4" fill="#4a4a84" stroke="#4a4a84" stroke-width="0.08">O</text>
<circle cx="445.30" cy="175.70" r="0.9" fill="#6262aa"/>
<text x="446.90" y="177.80" font-size="5.4" fill="#4a4a84" stroke="#4a4a84" stroke-width="0.08">G</text>
<circle cx="431.80" cy="183.00" r="0.9" fill="#6262aa"/>
<text x="433.40" y="185.10" font-size="5.4" fill="#4a4a84" stroke="#4a4a84" stroke-width="0.08">E</text>
<circle cx="443.40" cy="180.30" r="0.9" fill="#6262aa"/>
<text x="444.00" y="185.10" font-size="5.4" fill="#4a4a84" stroke="#4a4a84" stroke-width="0.08">H</text>
<circle cx="441.50" cy="189.40" r="0.9" fill="#6262aa"/>
<text x="443.10" y="191.50" font-size="5.4" fill="#4a4a84" stroke="#4a4a84" stroke-width="0.08">L</text>
<circle cx="437.40" cy="201.20" r="0.9" fill="#6262aa"/>
<text x="435.60" y="206.80" font-size="5.4" fill="#4a4a84" stroke="#4a4a84" stroke-width="0.08">M</text>
<text x="460.60" y="185.70" font-size="5.9" fill="#444" stroke="#444" stroke-width="0.08" font-style="italic" textLength="45.8" lengthAdjust="spacingAndGlyphs">Spearman r = 0.71</text>
<text x="460.60" y="193.10" font-size="5.9" fill="#444" stroke="#444" stroke-width="0.08" font-style="italic" textLength="16.5" lengthAdjust="spacingAndGlyphs">P &lt; .01</text>
<text transform="translate(397.60,177.00) rotate(-90)" font-size="7" fill="#262626" stroke="#262626" stroke-width="0.32" text-anchor="middle" textLength="61.3" lengthAdjust="spacingAndGlyphs">% Cytochrome c release</text>
<text transform="translate(407.60,177.60) rotate(-90)" font-size="7" fill="#262626" stroke="#262626" stroke-width="0.32" text-anchor="middle" textLength="69.4" lengthAdjust="spacingAndGlyphs">(BAD) (BCL-2 Dependence)</text>
<text x="470.50" y="231.90" font-size="7" fill="#262626" stroke="#262626" stroke-width="0.32" text-anchor="middle" textLength="60.6" lengthAdjust="spacingAndGlyphs">% Cytochrome c release</text>
<text x="470.00" y="241.90" font-size="7" fill="#262626" stroke="#262626" stroke-width="0.32" text-anchor="middle" textLength="71.2" lengthAdjust="spacingAndGlyphs">(HRK) (BCL-XL Dependence)</text>
<text x="6.10" y="271.60" font-size="10.9" fill="#000" font-weight="bold">F</text>
<text x="131.10" y="284.80" font-size="8.7" fill="#222" stroke="#222" stroke-width="0.1" text-anchor="middle" textLength="50.2" lengthAdjust="spacingAndGlyphs">Adult ETP-ALL</text>
<rect x="35.10" y="347.54" width="1.80" height="10.76" fill="#9a92cc"/>
<rect x="38.05" y="299.23" width="1.80" height="59.07" fill="#bd0f2c"/>
<rect x="41.00" y="304.31" width="1.80" height="53.99" fill="#1c3f82"/>
<line x1="40.40" y1="358.30" x2="40.40" y2="360.40" stroke="#222" stroke-width="0.6"/>
<text x="40.40" y="369.20" font-size="6.3" fill="#262626" stroke="#262626" stroke-width="0.2" text-anchor="middle">A</text>
<rect x="48.05" y="349.39" width="1.80" height="8.91" fill="#9a92cc"/>
<rect x="51.00" y="305.90" width="1.80" height="52.40" fill="#bd0f2c"/>
<rect x="53.95" y="317.31" width="1.80" height="40.99" fill="#1c3f82"/>
<line x1="53.35" y1="358.30" x2="53.35" y2="360.40" stroke="#222" stroke-width="0.6"/>
<text x="53.35" y="369.20" font-size="6.3" fill="#262626" stroke="#262626" stroke-width="0.2" text-anchor="middle">B</text>
<rect x="61.00" y="350.64" width="1.80" height="7.66" fill="#9a92cc"/>
<rect x="63.95" y="312.63" width="1.80" height="45.67" fill="#bd0f2c"/>
<rect x="66.90" y="319.82" width="1.80" height="38.48" fill="#1c3f82"/>
<line x1="66.30" y1="358.30" x2="66.30" y2="360.40" stroke="#222" stroke-width="0.6"/>
<text x="66.30" y="369.20" font-size="6.3" fill="#262626" stroke="#262626" stroke-width="0.2" text-anchor="middle">C</text>
<rect x="73.95" y="345.63" width="1.80" height="12.67" fill="#9a92cc"/>
<rect x="76.90" y="311.37" width="1.80" height="46.93" fill="#bd0f2c"/>
<rect x="79.85" y="315.40" width="1.80" height="42.90" fill="#1c3f82"/>
<line x1="79.25" y1="358.30" x2="79.25" y2="360.40" stroke="#222" stroke-width="0.6"/>
<text x="79.25" y="369.20" font-size="6.3" fill="#262626" stroke="#262626" stroke-width="0.2" text-anchor="middle">D</text>
<rect x="86.90" y="339.03" width="1.80" height="19.27" fill="#9a92cc"/>
<rect x="89.85" y="319.16" width="1.80" height="39.14" fill="#bd0f2c"/>
<rect x="92.80" y="329.92" width="1.80" height="28.38" fill="#1c3f82"/>
<line x1="92.20" y1="358.30" x2="92.20" y2="360.40" stroke="#222" stroke-width="0.6"/>
<text x="92.20" y="369.20" font-size="6.3" fill="#262626" stroke="#262626" stroke-width="0.2" text-anchor="middle">E</text>
<rect x="99.85" y="333.62" width="1.80" height="24.68" fill="#9a92cc"/>
<rect x="102.80" y="307.81" width="1.80" height="50.49" fill="#bd0f2c"/>
<rect x="105.75" y="316.39" width="1.80" height="41.91" fill="#1c3f82"/>
<line x1="105.15" y1="358.30" x2="105.15" y2="360.40" stroke="#222" stroke-width="0.6"/>
<text x="105.15" y="369.20" font-size="6.3" fill="#262626" stroke="#262626" stroke-width="0.2" text-anchor="middle">F</text>
<rect x="112.80" y="343.71" width="1.80" height="14.59" fill="#9a92cc"/>
<rect x="115.75" y="323.52" width="1.80" height="34.78" fill="#bd0f2c"/>
<rect x="118.70" y="338.63" width="1.80" height="19.67" fill="#1c3f82"/>
<line x1="118.10" y1="358.30" x2="118.10" y2="360.40" stroke="#222" stroke-width="0.6"/>
<text x="118.10" y="369.20" font-size="6.3" fill="#262626" stroke="#262626" stroke-width="0.2" text-anchor="middle">G</text>
<rect x="125.75" y="342.46" width="1.80" height="15.84" fill="#9a92cc"/>
<rect x="128.70" y="319.82" width="1.80" height="38.48" fill="#bd0f2c"/>
<rect x="131.65" y="341.60" width="1.80" height="16.70" fill="#1c3f82"/>
<line x1="131.05" y1="358.30" x2="131.05" y2="360.40" stroke="#222" stroke-width="0.6"/>
<text x="131.05" y="369.20" font-size="6.3" fill="#262626" stroke="#262626" stroke-width="0.2" text-anchor="middle">H</text>
<rect x="138.70" y="352.89" width="1.80" height="5.41" fill="#9a92cc"/>
<rect x="141.65" y="318.50" width="1.80" height="39.80" fill="#bd0f2c"/>
<rect x="144.60" y="337.84" width="1.80" height="20.46" fill="#1c3f82"/>
<line x1="144.00" y1="358.30" x2="144.00" y2="360.40" stroke="#222" stroke-width="0.6"/>
<text x="144.00" y="369.20" font-size="6.3" fill="#262626" stroke="#262626" stroke-width="0.2" text-anchor="middle">I</text>
<rect x="151.65" y="351.70" width="1.80" height="6.60" fill="#9a92cc"/>
<rect x="154.60" y="319.36" width="1.80" height="38.94" fill="#bd0f2c"/>
<rect x="157.55" y="332.43" width="1.80" height="25.87" fill="#1c3f82"/>
<line x1="156.95" y1="358.30" x2="156.95" y2="360.40" stroke="#222" stroke-width="0.6"/>
<text x="156.95" y="369.20" font-size="6.3" fill="#262626" stroke="#262626" stroke-width="0.2" text-anchor="middle">J</text>
<rect x="164.60" y="356.58" width="1.80" height="1.72" fill="#9a92cc"/>
<rect x="167.55" y="319.69" width="1.80" height="38.61" fill="#bd0f2c"/>
<rect x="170.50" y="330.18" width="1.80" height="28.12" fill="#1c3f82"/>
<line x1="169.90" y1="358.30" x2="169.90" y2="360.40" stroke="#222" stroke-width="0.6"/>
<text x="169.90" y="369.20" font-size="6.3" fill="#262626" stroke="#262626" stroke-width="0.2" text-anchor="middle">K</text>
<rect x="177.55" y="335.60" width="1.80" height="22.70" fill="#9a92cc"/>
<rect x="180.50" y="329.06" width="1.80" height="29.24" fill="#bd0f2c"/>
<rect x="183.45" y="338.76" width="1.80" height="19.54" fill="#1c3f82"/>
<rect x="186.40" y="342.39" width="1.80" height="15.91" fill="#f39a1e"/>
<line x1="182.85" y1="358.30" x2="182.85" y2="360.40" stroke="#222" stroke-width="0.6"/>
<text x="182.85" y="369.20" font-size="6.3" fill="#262626" stroke="#262626" stroke-width="0.2" text-anchor="middle">L</text>
<rect x="190.50" y="337.64" width="1.80" height="20.66" fill="#9a92cc"/>
<rect x="193.45" y="319.29" width="1.80" height="39.01" fill="#bd0f2c"/>
<rect x="196.40" y="312.10" width="1.80" height="46.20" fill="#1c3f82"/>
<rect x="199.35" y="344.37" width="1.80" height="13.93" fill="#f39a1e"/>
<line x1="195.80" y1="358.30" x2="195.80" y2="360.40" stroke="#222" stroke-width="0.6"/>
<text x="195.80" y="369.20" font-size="6.3" fill="#262626" stroke="#262626" stroke-width="0.2" text-anchor="middle">M</text>
<rect x="203.45" y="349.13" width="1.80" height="9.17" fill="#9a92cc"/>
<rect x="206.40" y="309.13" width="1.80" height="49.17" fill="#bd0f2c"/>
<rect x="209.35" y="310.25" width="1.80" height="48.05" fill="#1c3f82"/>
<rect x="212.30" y="342.72" width="1.80" height="15.58" fill="#f39a1e"/>
<line x1="208.75" y1="358.30" x2="208.75" y2="360.40" stroke="#222" stroke-width="0.6"/>
<text x="208.75" y="369.20" font-size="6.3" fill="#262626" stroke="#262626" stroke-width="0.2" text-anchor="middle">N</text>
<rect x="216.40" y="346.95" width="1.80" height="11.35" fill="#9a92cc"/>
<rect x="219.35" y="312.36" width="1.80" height="45.94" fill="#bd0f2c"/>
<rect x="222.30" y="313.16" width="1.80" height="45.14" fill="#1c3f82"/>
<rect x="225.25" y="344.70" width="1.80" height="13.60" fill="#f39a1e"/>
<line x1="221.70" y1="358.30" x2="221.70" y2="360.40" stroke="#222" stroke-width="0.6"/>
<text x="221.70" y="369.20" font-size="6.3" fill="#262626" stroke="#262626" stroke-width="0.2" text-anchor="middle">O</text>
<line x1="35.60" y1="345.10" x2="228.00" y2="345.10" stroke="#111" stroke-width="0.9" stroke-dasharray="2.6,1.9"/>
<line x1="35.20" y1="289.80" x2="35.20" y2="358.90" stroke="#222" stroke-width="0.9"/>
<line x1="34.70" y1="358.30" x2="227.00" y2="358.30" stroke="#222" stroke-width="1.1"/>
<line x1="32.20" y1="358.30" x2="35.20" y2="358.30" stroke="#222" stroke-width="0.7"/>
<text x="29.60" y="360.50" font-size="6.1" fill="#262626" stroke="#262626" stroke-width="0.2" text-anchor="end">0</text>
<line x1="32.20" y1="345.10" x2="35.20" y2="345.10" stroke="#222" stroke-width="0.7"/>
<text x="29.60" y="347.30" font-size="6.1" fill="#262626" stroke="#262626" stroke-width="0.2" text-anchor="end">20</text>
<line x1="32.20" y1="331.90" x2="35.20" y2="331.90" stroke="#222" stroke-width="0.7"/>
<text x="29.60" y="334.10" font-size="6.1" fill="#262626" stroke="#262626" stroke-width="0.2" text-anchor="end">40</text>
<line x1="32.20" y1="318.70" x2="35.20" y2="318.70" stroke="#222" stroke-width="0.7"/>
<text x="29.60" y="320.90" font-size="6.1" fill="#262626" stroke="#262626" stroke-width="0.2" text-anchor="end">60</text>
<line x1="32.20" y1="305.50" x2="35.20" y2="305.50" stroke="#222" stroke-width="0.7"/>
<text x="29.60" y="307.70" font-size="6.1" fill="#262626" stroke="#262626" stroke-width="0.2" text-anchor="end">80</text>
<line x1="32.20" y1="292.30" x2="35.20" y2="292.30" stroke="#222" stroke-width="0.7"/>
<text x="29.60" y="294.50" font-size="6.1" fill="#262626" stroke="#262626" stroke-width="0.2" text-anchor="end">100</text>
<text transform="translate(12.90,325.40) rotate(-90)" font-size="7" fill="#262626" stroke="#262626" stroke-width="0.32" text-anchor="middle" textLength="63" lengthAdjust="spacingAndGlyphs">% Cytochrome c release</text>
<text x="11.00" y="369.20" font-size="6.2" fill="#262626" stroke="#262626" stroke-width="0.2" textLength="17.9" lengthAdjust="spacingAndGlyphs">Patient</text>
<rect x="38.70" y="375.70" width="6.40" height="3.00" fill="#bd0f2c"/>
<text x="45.50" y="378.80" font-size="5.4" fill="#444" stroke="#444" stroke-width="0.1" textLength="5.2" lengthAdjust="spacingAndGlyphs">vs</text>
<rect x="52.10" y="375.70" width="6.40" height="3.00" fill="#9a92cc"/>
<rect x="65.60" y="375.70" width="6.40" height="3.00" fill="#1c3f82"/>
<text x="72.40" y="378.80" font-size="5.4" fill="#444" stroke="#444" stroke-width="0.1" textLength="5.2" lengthAdjust="spacingAndGlyphs">vs</text>
<rect x="79.00" y="375.70" width="6.40" height="3.00" fill="#9a92cc"/>
<rect x="93.00" y="375.70" width="6.40" height="3.00" fill="#f39a1e"/>
<text x="99.80" y="378.80" font-size="5.4" fill="#444" stroke="#444" stroke-width="0.1" textLength="5.2" lengthAdjust="spacingAndGlyphs">vs</text>
<rect x="106.40" y="375.70" width="6.40" height="3.00" fill="#9a92cc"/>
<rect x="121.70" y="375.70" width="6.40" height="3.00" fill="#bd0f2c"/>
<text x="128.50" y="378.80" font-size="5.4" fill="#444" stroke="#444" stroke-width="0.1" textLength="5.2" lengthAdjust="spacingAndGlyphs">vs</text>
<rect x="135.10" y="375.70" width="6.40" height="3.00" fill="#1c3f82"/>
<rect x="149.60" y="375.70" width="6.40" height="3.00" fill="#bd0f2c"/>
<text x="156.40" y="378.80" font-size="5.4" fill="#444" stroke="#444" stroke-width="0.1" textLength="5.2" lengthAdjust="spacingAndGlyphs">vs</text>
<rect x="163.00" y="375.70" width="6.40" height="3.00" fill="#f39a1e"/>
<rect x="176.70" y="375.70" width="6.40" height="3.00" fill="#1c3f82"/>
<text x="183.50" y="378.80" font-size="5.4" fill="#444" stroke="#444" stroke-width="0.1" textLength="5.2" lengthAdjust="spacingAndGlyphs">vs</text>
<rect x="190.10" y="375.70" width="6.40" height="3.00" fill="#f39a1e"/>
<text x="48.30" y="387.20" font-size="5" fill="#555" stroke="#555" stroke-width="0.2" text-anchor="middle" textLength="8.2" lengthAdjust="spacingAndGlyphs">****</text>
<text x="75.20" y="387.20" font-size="5" fill="#555" stroke="#555" stroke-width="0.2" text-anchor="middle" textLength="8.2" lengthAdjust="spacingAndGlyphs">****</text>
<text x="98.60" y="386.60" font-size="5.6" fill="#262626" stroke="#262626" stroke-width="0.2" font-style="italic">P</text>
<text x="102.60" y="386.60" font-size="5.6" fill="#262626" stroke="#262626" stroke-width="0.2" textLength="12" lengthAdjust="spacingAndGlyphs">= .93</text>
<text x="127.20" y="386.60" font-size="5.6" fill="#262626" stroke="#262626" stroke-width="0.2" font-style="italic">P</text>
<text x="131.20" y="386.60" font-size="5.6" fill="#262626" stroke="#262626" stroke-width="0.2" textLength="11.5" lengthAdjust="spacingAndGlyphs">= .14</text>
<text x="159.10" y="387.20" font-size="5" fill="#555" stroke="#555" stroke-width="0.2" text-anchor="middle" textLength="8.2" lengthAdjust="spacingAndGlyphs">****</text>
<text x="186.60" y="387.20" font-size="5" fill="#555" stroke="#555" stroke-width="0.2" text-anchor="middle" textLength="6.2" lengthAdjust="spacingAndGlyphs">***</text>
<rect x="60.80" y="392.40" width="5.60" height="5.60" fill="#9a92cc"/>
<text x="69.60" y="397.40" font-size="5.8" fill="#262626" stroke="#262626" stroke-width="0.2" textLength="17" lengthAdjust="spacingAndGlyphs">DMSO</text>
<rect x="92.70" y="392.40" width="5.40" height="5.60" fill="#bd0f2c"/>
<text x="100.50" y="397.40" font-size="5.8" fill="#262626" stroke="#262626" stroke-width="0.2" textLength="22.2" lengthAdjust="spacingAndGlyphs">Ven 1μM</text>
<rect x="128.60" y="392.40" width="5.40" height="5.60" fill="#1c3f82"/>
<text x="136.80" y="397.40" font-size="5.8" fill="#262626" stroke="#262626" stroke-width="0.2" textLength="22.2" lengthAdjust="spacingAndGlyphs">Nav 1μM</text>
<rect x="165.00" y="392.40" width="5.60" height="5.40" fill="#f39a1e"/>
<text x="173.70" y="397.40" font-size="5.8" fill="#262626" stroke="#262626" stroke-width="0.2" textLength="27.5" lengthAdjust="spacingAndGlyphs">A-13 10μM</text>
<text x="248.30" y="271.80" font-size="10.9" fill="#000" font-weight="bold">G</text>
<circle cx="285.20" cy="335.60" r="1.15" fill="#8a84c4"/>
<circle cx="289.30" cy="334.40" r="1.15" fill="#8a84c4"/>
<circle cx="285.20" cy="339.10" r="1.15" fill="#8a84c4"/>
<circle cx="289.30" cy="338.40" r="1.15" fill="#8a84c4"/>
<circle cx="285.40" cy="343.50" r="1.15" fill="#8a84c4"/>
<circle cx="289.30" cy="342.60" r="1.15" fill="#8a84c4"/>
<circle cx="281.20" cy="345.00" r="1.15" fill="#8a84c4"/>
<circle cx="285.90" cy="346.30" r="1.15" fill="#8a84c4"/>
<circle cx="289.10" cy="347.70" r="1.15" fill="#8a84c4"/>
<circle cx="281.20" cy="348.70" r="1.15" fill="#8a84c4"/>
<circle cx="293.00" cy="349.70" r="1.15" fill="#8a84c4"/>
<circle cx="285.40" cy="350.90" r="1.15" fill="#8a84c4"/>
<circle cx="289.30" cy="352.20" r="1.15" fill="#8a84c4"/>
<circle cx="286.90" cy="355.40" r="1.15" fill="#8a84c4"/>
<line x1="280.50" y1="345.30" x2="293.80" y2="345.30" stroke="#8f88c8" stroke-width="0.8"/>
<line x1="287.30" y1="337.50" x2="287.30" y2="352.50" stroke="#8f88c8" stroke-width="0.6"/>
<circle cx="307.70" cy="302.40" r="1.15" fill="#c8102e"/>
<circle cx="309.10" cy="308.60" r="1.15" fill="#c8102e"/>
<circle cx="306.10" cy="310.20" r="1.15" fill="#c8102e"/>
<circle cx="311.30" cy="311.10" r="1.15" fill="#c8102e"/>
<circle cx="304.10" cy="313.00" r="1.15" fill="#c8102e"/>
<circle cx="309.40" cy="312.20" r="1.15" fill="#c8102e"/>
<circle cx="309.10" cy="314.70" r="1.15" fill="#c8102e"/>
<circle cx="311.30" cy="314.70" r="1.15" fill="#c8102e"/>
<circle cx="301.90" cy="320.80" r="1.15" fill="#c8102e"/>
<circle cx="304.10" cy="319.90" r="1.15" fill="#c8102e"/>
<circle cx="306.90" cy="321.30" r="1.15" fill="#c8102e"/>
<circle cx="309.10" cy="320.20" r="1.15" fill="#c8102e"/>
<circle cx="313.60" cy="320.80" r="1.15" fill="#c8102e"/>
<circle cx="307.70" cy="324.90" r="1.15" fill="#c8102e"/>
<circle cx="307.70" cy="329.90" r="1.15" fill="#c8102e"/>
<line x1="301.30" y1="317.20" x2="314.70" y2="317.20" stroke="#c8102e" stroke-width="0.9"/>
<line x1="307.80" y1="310.50" x2="307.80" y2="324.20" stroke="#c8102e" stroke-width="0.6"/>
<line x1="304.70" y1="324.10" x2="310.80" y2="324.10" stroke="#c8102e" stroke-width="0.6"/>
<line x1="304.70" y1="310.40" x2="310.80" y2="310.40" stroke="#c8102e" stroke-width="0.6"/>
<circle cx="328.20" cy="307.10" r="1.1" fill="#1a4684"/>
<circle cx="332.30" cy="312.20" r="1.1" fill="#1a4684"/>
<circle cx="324.50" cy="314.90" r="1.1" fill="#1a4684"/>
<circle cx="328.20" cy="315.30" r="1.1" fill="#1a4684"/>
<circle cx="324.50" cy="318.30" r="1.1" fill="#1a4684"/>
<circle cx="328.20" cy="318.00" r="1.1" fill="#1a4684"/>
<circle cx="332.30" cy="319.30" r="1.1" fill="#1a4684"/>
<circle cx="328.20" cy="321.70" r="1.1" fill="#1a4684"/>
<circle cx="324.50" cy="331.30" r="1.1" fill="#1a4684"/>
<circle cx="332.30" cy="331.30" r="1.1" fill="#1a4684"/>
<circle cx="328.20" cy="333.30" r="1.1" fill="#1a4684"/>
<circle cx="324.50" cy="338.70" r="1.1" fill="#1a4684"/>
<circle cx="328.20" cy="339.10" r="1.1" fill="#1a4684"/>
<circle cx="332.30" cy="339.10" r="1.1" fill="#1a4684"/>
<circle cx="328.20" cy="342.10" r="1.1" fill="#1a4684"/>
<line x1="321.70" y1="325.50" x2="334.70" y2="325.50" stroke="#1a4684" stroke-width="0.9"/>
<line x1="328.40" y1="313.90" x2="328.40" y2="336.40" stroke="#1a4684" stroke-width="0.6"/>
<line x1="325.30" y1="313.90" x2="331.50" y2="313.90" stroke="#1a4684" stroke-width="0.6"/>
<line x1="325.30" y1="336.40" x2="331.50" y2="336.40" stroke="#1a4684" stroke-width="0.6"/>
<circle cx="342.80" cy="345.40" r="0.85" fill="#f29418"/>
<circle cx="343.75" cy="344.50" r="0.85" fill="#f29418"/>
<circle cx="344.70" cy="344.60" r="0.85" fill="#f29418"/>
<circle cx="345.65" cy="344.80" r="0.85" fill="#f29418"/>
<circle cx="346.60" cy="343.90" r="0.85" fill="#f29418"/>
<circle cx="347.55" cy="344.00" r="0.85" fill="#f29418"/>
<circle cx="348.50" cy="344.20" r="0.85" fill="#f29418"/>
<circle cx="349.45" cy="343.30" r="0.85" fill="#f29418"/>
<circle cx="350.40" cy="343.40" r="0.85" fill="#f29418"/>
<circle cx="351.35" cy="343.60" r="0.85" fill="#f29418"/>
<circle cx="352.30" cy="342.70" r="0.85" fill="#f29418"/>
<circle cx="353.25" cy="342.80" r="0.85" fill="#f29418"/>
<circle cx="354.20" cy="343.00" r="0.85" fill="#f29418"/>
<line x1="343.00" y1="344.50" x2="354.60" y2="342.60" stroke="#e58c12" stroke-width="0.9"/>
<line x1="277.20" y1="294.40" x2="277.20" y2="358.80" stroke="#222" stroke-width="1.2"/>
<line x1="276.70" y1="358.30" x2="359.00" y2="358.30" stroke="#222" stroke-width="1.2"/>
<line x1="274.20" y1="358.10" x2="277.20" y2="358.10" stroke="#222" stroke-width="0.8"/>
<text x="271.20" y="360.30" font-size="6.1" fill="#262626" stroke="#262626" stroke-width="0.2" text-anchor="end">0</text>
<line x1="274.20" y1="345.72" x2="277.20" y2="345.72" stroke="#222" stroke-width="0.8"/>
<text x="271.20" y="347.92" font-size="6.1" fill="#262626" stroke="#262626" stroke-width="0.2" text-anchor="end">20</text>
<line x1="274.20" y1="333.34" x2="277.20" y2="333.34" stroke="#222" stroke-width="0.8"/>
<text x="271.20" y="335.54" font-size="6.1" fill="#262626" stroke="#262626" stroke-width="0.2" text-anchor="end">40</text>
<line x1="274.20" y1="320.96" x2="277.20" y2="320.96" stroke="#222" stroke-width="0.8"/>
<text x="271.20" y="323.16" font-size="6.1" fill="#262626" stroke="#262626" stroke-width="0.2" text-anchor="end">60</text>
<line x1="274.20" y1="308.58" x2="277.20" y2="308.58" stroke="#222" stroke-width="0.8"/>
<text x="271.20" y="310.78" font-size="6.1" fill="#262626" stroke="#262626" stroke-width="0.2" text-anchor="end">80</text>
<line x1="274.20" y1="296.20" x2="277.20" y2="296.20" stroke="#222" stroke-width="0.8"/>
<text x="271.20" y="298.40" font-size="6.1" fill="#262626" stroke="#262626" stroke-width="0.2" text-anchor="end">100</text>
<line x1="287.30" y1="358.30" x2="287.30" y2="361.00" stroke="#222" stroke-width="0.9"/>
<line x1="307.80" y1="358.30" x2="307.80" y2="361.00" stroke="#222" stroke-width="0.9"/>
<line x1="328.60" y1="358.30" x2="328.60" y2="361.00" stroke="#222" stroke-width="0.9"/>
<line x1="348.50" y1="358.30" x2="348.50" y2="361.00" stroke="#222" stroke-width="0.9"/>
<text transform="translate(255.60,325.70) rotate(-90)" font-size="7" fill="#262626" stroke="#262626" stroke-width="0.32" text-anchor="middle" textLength="61.3" lengthAdjust="spacingAndGlyphs">% Cytochrome c release</text>
<text x="287.60" y="369.40" font-size="6" fill="#262626" stroke="#262626" stroke-width="0.2" text-anchor="middle" textLength="18.9" lengthAdjust="spacingAndGlyphs">DMSO</text>
<text x="308.00" y="369.40" font-size="6" fill="#262626" stroke="#262626" stroke-width="0.2" text-anchor="middle" textLength="10" lengthAdjust="spacingAndGlyphs">Ven</text>
<text x="329.00" y="369.40" font-size="6" fill="#262626" stroke="#262626" stroke-width="0.2" text-anchor="middle" textLength="10.3" lengthAdjust="spacingAndGlyphs">Nav</text>
<text x="349.00" y="369.40" font-size="6" fill="#262626" stroke="#262626" stroke-width="0.2" text-anchor="middle" textLength="12.4" lengthAdjust="spacingAndGlyphs">A-13</text>
<line x1="285.40" y1="281.70" x2="350.80" y2="281.70" stroke="#666" stroke-width="0.8"/>
<circle cx="285.40" cy="281.70" r="0.9" fill="#666"/>
<circle cx="350.80" cy="281.70" r="0.9" fill="#666"/>
<text x="319.00" y="279.60" font-size="5" fill="#555" stroke="#555" stroke-width="0.1" text-anchor="middle">ns</text>
<line x1="285.40" y1="287.60" x2="329.60" y2="287.60" stroke="#666" stroke-width="0.8"/>
<circle cx="285.40" cy="287.60" r="0.9" fill="#666"/>
<circle cx="329.60" cy="287.60" r="0.9" fill="#666"/>
<text x="308.00" y="286.40" font-size="4.8" fill="#262626" stroke="#262626" stroke-width="0.2" text-anchor="middle" textLength="7.5" lengthAdjust="spacingAndGlyphs">****</text>
<line x1="285.40" y1="293.90" x2="350.80" y2="293.90" stroke="#666" stroke-width="0.8"/>
<circle cx="285.40" cy="293.90" r="0.9" fill="#666"/>
<circle cx="350.80" cy="293.90" r="0.9" fill="#666"/>
<circle cx="310.70" cy="293.90" r="0.9" fill="#666"/>
<text x="297.80" y="292.70" font-size="4.8" fill="#262626" stroke="#262626" stroke-width="0.2" text-anchor="middle" textLength="7.5" lengthAdjust="spacingAndGlyphs">****</text>
<text x="331.10" y="292.70" font-size="4.8" fill="#262626" stroke="#262626" stroke-width="0.2" text-anchor="middle" textLength="7.5" lengthAdjust="spacingAndGlyphs">****</text>
<line x1="310.70" y1="300.50" x2="348.40" y2="300.50" stroke="#666" stroke-width="0.8"/>
<circle cx="310.70" cy="300.50" r="0.9" fill="#666"/>
<circle cx="348.40" cy="300.50" r="0.9" fill="#666"/>
<circle cx="328.90" cy="300.50" r="0.9" fill="#666"/>
<text x="319.00" y="298.80" font-size="5" fill="#555" stroke="#555" stroke-width="0.1" text-anchor="middle">ns</text>
<text x="339.00" y="299.40" font-size="4.8" fill="#262626" stroke="#262626" stroke-width="0.2" text-anchor="middle" textLength="5.8" lengthAdjust="spacingAndGlyphs">***</text>
<line x1="429.40" y1="270.60" x2="429.40" y2="336.60" stroke="#222" stroke-width="1.1"/>
<line x1="429.00" y1="336.00" x2="509.00" y2="336.00" stroke="#222" stroke-width="1.1"/>
<line x1="426.40" y1="336.00" x2="429.40" y2="336.00" stroke="#222" stroke-width="0.8"/>
<text x="422.80" y="338.16" font-size="6.0" fill="#262626" stroke="#262626" stroke-width="0.2" text-anchor="end">0</text>
<line x1="426.40" y1="323.35" x2="429.40" y2="323.35" stroke="#222" stroke-width="0.8"/>
<text x="422.80" y="325.51" font-size="6.0" fill="#262626" stroke="#262626" stroke-width="0.2" text-anchor="end">20</text>
<line x1="426.40" y1="310.70" x2="429.40" y2="310.70" stroke="#222" stroke-width="0.8"/>
<text x="422.80" y="312.86" font-size="6.0" fill="#262626" stroke="#262626" stroke-width="0.2" text-anchor="end">40</text>
<line x1="426.40" y1="298.05" x2="429.40" y2="298.05" stroke="#222" stroke-width="0.8"/>
<text x="422.80" y="300.21" font-size="6.0" fill="#262626" stroke="#262626" stroke-width="0.2" text-anchor="end">60</text>
<line x1="426.40" y1="285.40" x2="429.40" y2="285.40" stroke="#222" stroke-width="0.8"/>
<text x="422.80" y="287.56" font-size="6.0" fill="#262626" stroke="#262626" stroke-width="0.2" text-anchor="end">80</text>
<line x1="426.40" y1="272.75" x2="429.40" y2="272.75" stroke="#222" stroke-width="0.8"/>
<text x="422.80" y="274.91" font-size="6.0" fill="#262626" stroke="#262626" stroke-width="0.2" text-anchor="end">100</text>
<line x1="429.40" y1="336.00" x2="429.40" y2="338.00" stroke="#222" stroke-width="0.7"/>
<text x="429.40" y="346.90" font-size="5.8" fill="#262626" stroke="#262626" stroke-width="0.2" text-anchor="middle">0</text>
<line x1="445.25" y1="336.00" x2="445.25" y2="338.00" stroke="#222" stroke-width="0.7"/>
<text x="445.25" y="346.90" font-size="5.8" fill="#262626" stroke="#262626" stroke-width="0.2" text-anchor="middle">20</text>
<line x1="461.10" y1="336.00" x2="461.10" y2="338.00" stroke="#222" stroke-width="0.7"/>
<text x="461.10" y="346.90" font-size="5.8" fill="#262626" stroke="#262626" stroke-width="0.2" text-anchor="middle">40</text>
<line x1="476.95" y1="336.00" x2="476.95" y2="338.00" stroke="#222" stroke-width="0.7"/>
<text x="476.95" y="346.90" font-size="5.8" fill="#262626" stroke="#262626" stroke-width="0.2" text-anchor="middle">60</text>
<line x1="492.80" y1="336.00" x2="492.80" y2="338.00" stroke="#222" stroke-width="0.7"/>
<text x="492.80" y="346.90" font-size="5.8" fill="#262626" stroke="#262626" stroke-width="0.2" text-anchor="middle">80</text>
<line x1="508.65" y1="336.00" x2="508.65" y2="338.00" stroke="#222" stroke-width="0.7"/>
<text x="508.65" y="346.90" font-size="5.8" fill="#262626" stroke="#262626" stroke-width="0.2" text-anchor="middle">100</text>
<line x1="445.50" y1="270.60" x2="445.50" y2="336.00" stroke="#333" stroke-width="0.6"/>
<line x1="429.40" y1="323.50" x2="508.60" y2="323.50" stroke="#333" stroke-width="0.6"/>
<circle cx="466.50" cy="278.00" r="1.4" fill="#17386a"/>
<text x="461.30" y="279.80" font-size="5.6" fill="#3a4470" stroke="#3a4470" stroke-width="0.06">A</text>
<circle cx="481.50" cy="281.50" r="1.4" fill="#17386a"/>
<text x="482.70" y="281.30" font-size="5.6" fill="#3a4470" stroke="#3a4470" stroke-width="0.06">N</text>
<circle cx="481.10" cy="285.20" r="1.4" fill="#17386a"/>
<text x="475.90" y="287.00" font-size="5.6" fill="#3a4470" stroke="#3a4470" stroke-width="0.06">B</text>
<circle cx="491.80" cy="286.20" r="1.4" fill="#17386a"/>
<text x="493.40" y="288.00" font-size="5.6" fill="#3a4470" stroke="#3a4470" stroke-width="0.06">K</text>
<circle cx="480.00" cy="290.00" r="1.4" fill="#17386a"/>
<text x="474.80" y="291.80" font-size="5.6" fill="#3a4470" stroke="#3a4470" stroke-width="0.06">C</text>
<circle cx="484.20" cy="290.80" r="1.4" fill="#17386a"/>
<circle cx="488.00" cy="292.60" r="1.4" fill="#17386a"/>
<text x="489.60" y="294.40" font-size="5.6" fill="#3a4470" stroke="#3a4470" stroke-width="0.06">J</text>
<circle cx="479.50" cy="293.80" r="1.4" fill="#17386a"/>
<text x="477.90" y="296.40" font-size="5.6" fill="#3a4470" stroke="#3a4470" stroke-width="0.06">D</text>
<circle cx="484.20" cy="294.20" r="1.4" fill="#17386a"/>
<circle cx="476.50" cy="296.00" r="1.4" fill="#17386a"/>
<text x="471.30" y="297.80" font-size="5.6" fill="#3a4470" stroke="#3a4470" stroke-width="0.06">F</text>
<circle cx="482.60" cy="298.30" r="1.4" fill="#17386a"/>
<text x="484.20" y="300.10" font-size="5.6" fill="#3a4470" stroke="#3a4470" stroke-width="0.06">O</text>
<circle cx="468.80" cy="301.10" r="1.4" fill="#17386a"/>
<text x="464.20" y="300.30" font-size="5.6" fill="#3a4470" stroke="#3a4470" stroke-width="0.06">G</text>
<circle cx="465.70" cy="306.20" r="1.4" fill="#17386a"/>
<text x="460.50" y="308.00" font-size="5.6" fill="#3a4470" stroke="#3a4470" stroke-width="0.06">H</text>
<circle cx="476.00" cy="308.80" r="1.4" fill="#17386a"/>
<text x="477.20" y="308.60" font-size="5.6" fill="#3a4470" stroke="#3a4470" stroke-width="0.06">E</text>
<circle cx="455.40" cy="316.00" r="1.4" fill="#17386a"/>
<text x="456.60" y="315.80" font-size="5.6" fill="#3a4470" stroke="#3a4470" stroke-width="0.06">L</text>
<circle cx="445.70" cy="327.60" r="1.4" fill="#17386a"/>
<text x="447.30" y="329.40" font-size="5.6" fill="#3a4470" stroke="#3a4470" stroke-width="0.06">M</text>
<text x="486.50" y="287.60" font-size="5.2" fill="#d8b060" stroke="#d8b060" stroke-width="0.2">I</text>
<text x="464.90" y="314.20" font-size="5.9" fill="#444" stroke="#444" stroke-width="0.1" font-style="italic" textLength="45.8" lengthAdjust="spacingAndGlyphs">Spearman r = 0.54</text>
<text x="464.90" y="320.60" font-size="5.9" fill="#444" stroke="#444" stroke-width="0.1" font-style="italic" textLength="16.5" lengthAdjust="spacingAndGlyphs">P &lt; .05</text>
<text transform="translate(398.00,303.10) rotate(-90)" font-size="7" fill="#262626" stroke="#262626" stroke-width="0.32" text-anchor="middle" textLength="61.3" lengthAdjust="spacingAndGlyphs">% Cytochrome c release</text>
<text transform="translate(408.60,301.90) rotate(-90)" font-size="7" fill="#262626" stroke="#262626" stroke-width="0.32" text-anchor="middle" textLength="66.3" lengthAdjust="spacingAndGlyphs">(BAD) (BCL-2 Dependence)</text>
<text x="470.30" y="357.90" font-size="7" fill="#262626" stroke="#262626" stroke-width="0.32" text-anchor="middle" textLength="61" lengthAdjust="spacingAndGlyphs">% Cytochrome c release</text>
<text x="469.80" y="367.50" font-size="7" fill="#262626" stroke="#262626" stroke-width="0.32" text-anchor="middle" textLength="81.2" lengthAdjust="spacingAndGlyphs">(BAD-HRK) (BCL-2 Dependence)</text>
<text x="6.30" y="422.80" font-size="10.9" fill="#000" font-weight="bold">H</text>
<text x="69.20" y="435.30" font-size="8.3" fill="#222" stroke="#222" stroke-width="0.1" text-anchor="middle" textLength="31.3" lengthAdjust="spacingAndGlyphs">Patient A</text>
<path d="M42.80,448.60 C44.17,448.87 48.29,448.69 51.03,450.20 C53.77,451.71 57.07,454.46 59.26,457.66 C61.45,460.86 62.83,466.01 64.20,469.39 C65.57,472.76 66.26,474.89 67.49,477.92 C68.72,480.94 69.96,484.84 71.60,487.51 C73.25,490.17 75.31,492.48 77.37,493.90 C79.42,495.33 81.48,495.77 83.95,496.04 C86.42,496.30 90.81,495.59 92.18,495.50" fill="none" stroke="#1a4a80" stroke-width="1.15" stroke-linejoin="round"/>
<path d="M42.80,453.66 C45.54,455.93 55.14,463.66 59.26,467.25 C63.38,470.85 64.75,472.76 67.49,475.25 C70.23,477.74 72.98,479.87 75.72,482.18 C78.46,484.49 81.21,487.06 83.95,489.11 C86.69,491.15 90.81,493.55 92.18,494.44" fill="none" stroke="#c0102e" stroke-width="1.15" stroke-linejoin="round"/>
<rect x="36.60" y="447.30" width="2.60" height="2.60" fill="#1a4a80"/>
<rect x="57.96" y="457.96" width="2.60" height="2.60" fill="#1a4a80"/>
<rect x="66.19" y="479.81" width="2.60" height="2.60" fill="#1a4a80"/>
<rect x="74.42" y="486.21" width="2.60" height="2.60" fill="#1a4a80"/>
<rect x="82.65" y="498.47" width="2.60" height="2.60" fill="#1a4a80"/>
<rect x="90.88" y="493.67" width="2.60" height="2.60" fill="#1a4a80"/>
<circle cx="37.90" cy="453.93" r="1.3" fill="#c0102e"/>
<circle cx="59.26" cy="467.25" r="1.3" fill="#c0102e"/>
<circle cx="67.49" cy="477.38" r="1.3" fill="#c0102e"/>
<circle cx="75.72" cy="481.11" r="1.3" fill="#c0102e"/>
<circle cx="83.95" cy="489.64" r="1.3" fill="#c0102e"/>
<circle cx="92.18" cy="494.97" r="1.3" fill="#c0102e"/>
<line x1="34.90" y1="443.30" x2="34.90" y2="502.50" stroke="#222" stroke-width="1.2"/>
<line x1="34.30" y1="501.90" x2="39.50" y2="501.90" stroke="#222" stroke-width="1.2"/>
<line x1="42.20" y1="501.90" x2="101.21" y2="501.90" stroke="#222" stroke-width="1.2"/>
<line x1="37.90" y1="501.90" x2="37.90" y2="504.50" stroke="#222" stroke-width="0.9"/>
<line x1="42.80" y1="501.90" x2="42.80" y2="504.50" stroke="#222" stroke-width="0.9"/>
<line x1="51.03" y1="501.90" x2="51.03" y2="504.50" stroke="#222" stroke-width="0.9"/>
<line x1="59.26" y1="501.90" x2="59.26" y2="504.50" stroke="#222" stroke-width="0.9"/>
<line x1="67.49" y1="501.90" x2="67.49" y2="504.50" stroke="#222" stroke-width="0.9"/>
<line x1="75.72" y1="501.90" x2="75.72" y2="504.50" stroke="#222" stroke-width="0.9"/>
<line x1="83.95" y1="501.90" x2="83.95" y2="504.50" stroke="#222" stroke-width="0.9"/>
<line x1="92.18" y1="501.90" x2="92.18" y2="504.50" stroke="#222" stroke-width="0.9"/>
<line x1="100.41" y1="501.90" x2="100.41" y2="504.50" stroke="#222" stroke-width="0.9"/>
<line x1="31.90" y1="501.90" x2="34.90" y2="501.90" stroke="#222" stroke-width="0.9"/>
<text x="29.60" y="504.10" font-size="6.4" fill="#262626" stroke="#262626" stroke-width="0.2" text-anchor="end">0</text>
<line x1="31.90" y1="491.24" x2="34.90" y2="491.24" stroke="#222" stroke-width="0.9"/>
<text x="29.60" y="493.44" font-size="6.4" fill="#262626" stroke="#262626" stroke-width="0.2" text-anchor="end">20</text>
<line x1="31.90" y1="480.58" x2="34.90" y2="480.58" stroke="#222" stroke-width="0.9"/>
<text x="29.60" y="482.78" font-size="6.4" fill="#262626" stroke="#262626" stroke-width="0.2" text-anchor="end">40</text>
<line x1="31.90" y1="469.92" x2="34.90" y2="469.92" stroke="#222" stroke-width="0.9"/>
<text x="29.60" y="472.12" font-size="6.4" fill="#262626" stroke="#262626" stroke-width="0.2" text-anchor="end">60</text>
<line x1="31.90" y1="459.26" x2="34.90" y2="459.26" stroke="#222" stroke-width="0.9"/>
<text x="29.60" y="461.46" font-size="6.4" fill="#262626" stroke="#262626" stroke-width="0.2" text-anchor="end">80</text>
<line x1="31.90" y1="448.60" x2="34.90" y2="448.60" stroke="#222" stroke-width="0.9"/>
<text x="29.60" y="450.80" font-size="6.4" fill="#262626" stroke="#262626" stroke-width="0.2" text-anchor="end">100</text>
<text transform="translate(39.30,511.30) rotate(-45)" font-size="6.1" fill="#262626" stroke="#262626" stroke-width="0.15" text-anchor="end">UN</text>
<text transform="translate(45.20,511.30) rotate(-45)" font-size="6.1" fill="#262626" stroke="#262626" stroke-width="0.15" text-anchor="end">-5</text>
<text transform="translate(53.43,511.30) rotate(-45)" font-size="6.1" fill="#262626" stroke="#262626" stroke-width="0.15" text-anchor="end">-4</text>
<text transform="translate(61.66,511.30) rotate(-45)" font-size="6.1" fill="#262626" stroke="#262626" stroke-width="0.15" text-anchor="end">-3</text>
<text transform="translate(69.89,511.30) rotate(-45)" font-size="6.1" fill="#262626" stroke="#262626" stroke-width="0.15" text-anchor="end">-2</text>
<text transform="translate(78.12,511.30) rotate(-45)" font-size="6.1" fill="#262626" stroke="#262626" stroke-width="0.15" text-anchor="end">-1</text>
<text transform="translate(86.35,511.30) rotate(-45)" font-size="6.1" fill="#262626" stroke="#262626" stroke-width="0.15" text-anchor="end">0</text>
<text transform="translate(94.58,511.30) rotate(-45)" font-size="6.1" fill="#262626" stroke="#262626" stroke-width="0.15" text-anchor="end">1</text>
<text transform="translate(102.81,511.30) rotate(-45)" font-size="6.1" fill="#262626" stroke="#262626" stroke-width="0.15" text-anchor="end">2</text>
<text transform="translate(13.00,473.10) rotate(-90)" font-size="7.7" fill="#262626" stroke="#262626" stroke-width="0.32" text-anchor="middle" textLength="56.8" lengthAdjust="spacingAndGlyphs">Percentage of live cells</text>
<text x="69.20" y="526.20" font-size="7.4" fill="#262626" stroke="#262626" stroke-width="0.32" text-anchor="middle" textLength="43.3" lengthAdjust="spacingAndGlyphs">Log [Conc (μM)]</text>
<text x="171.60" y="435.20" font-size="8.3" fill="#222" stroke="#222" stroke-width="0.1" text-anchor="middle" textLength="31.3" lengthAdjust="spacingAndGlyphs">Patient B</text>
<path d="M143.30,445.20 C146.12,445.15 155.98,444.92 160.20,444.92 C164.43,444.92 165.83,444.68 168.65,445.20 C171.47,445.72 174.99,446.90 177.10,448.03 C179.21,449.17 179.92,450.40 181.33,452.00 C182.73,453.61 184.14,455.59 185.55,457.67 C186.96,459.75 188.37,462.49 189.78,464.48 C191.18,466.46 193.30,468.73 194.00,469.58" fill="none" stroke="#c0102e" stroke-width="1.15" stroke-linejoin="round"/>
<path d="M143.30,445.20 C144.71,445.29 148.93,445.29 151.75,445.77 C154.57,446.24 157.38,446.81 160.20,448.03 C163.02,449.26 166.54,451.53 168.65,453.14 C170.76,454.74 171.47,456.07 172.88,457.67 C174.28,459.28 175.69,461.17 177.10,462.78 C178.51,464.38 179.92,466.18 181.33,467.31 C182.73,468.45 183.44,469.01 185.55,469.58 C187.66,470.15 192.59,470.53 194.00,470.71" fill="none" stroke="#1a4a80" stroke-width="1.15" stroke-linejoin="round"/>
<rect x="137.90" y="443.90" width="2.60" height="2.60" fill="#1a4a80"/>
<rect x="158.90" y="447.87" width="2.60" height="2.60" fill="#1a4a80"/>
<rect x="167.35" y="452.40" width="2.60" height="2.60" fill="#1a4a80"/>
<rect x="175.80" y="462.04" width="2.60" height="2.60" fill="#1a4a80"/>
<rect x="184.25" y="468.85" width="2.60" height="2.60" fill="#1a4a80"/>
<rect x="192.70" y="469.41" width="2.60" height="2.60" fill="#1a4a80"/>
<circle cx="160.20" cy="444.07" r="1.3" fill="#c0102e"/>
<circle cx="168.65" cy="445.20" r="1.3" fill="#c0102e"/>
<circle cx="177.10" cy="448.03" r="1.3" fill="#c0102e"/>
<circle cx="185.55" cy="456.54" r="1.3" fill="#c0102e"/>
<circle cx="194.00" cy="469.01" r="1.3" fill="#c0102e"/>
<line x1="135.80" y1="439.90" x2="135.80" y2="502.50" stroke="#222" stroke-width="1.2"/>
<line x1="135.20" y1="501.90" x2="140.80" y2="501.90" stroke="#222" stroke-width="1.2"/>
<line x1="142.70" y1="501.90" x2="203.25" y2="501.90" stroke="#222" stroke-width="1.2"/>
<line x1="139.20" y1="501.90" x2="139.20" y2="504.50" stroke="#222" stroke-width="0.9"/>
<line x1="143.30" y1="501.90" x2="143.30" y2="504.50" stroke="#222" stroke-width="0.9"/>
<line x1="151.75" y1="501.90" x2="151.75" y2="504.50" stroke="#222" stroke-width="0.9"/>
<line x1="160.20" y1="501.90" x2="160.20" y2="504.50" stroke="#222" stroke-width="0.9"/>
<line x1="168.65" y1="501.90" x2="168.65" y2="504.50" stroke="#222" stroke-width="0.9"/>
<line x1="177.10" y1="501.90" x2="177.10" y2="504.50" stroke="#222" stroke-width="0.9"/>
<line x1="185.55" y1="501.90" x2="185.55" y2="504.50" stroke="#222" stroke-width="0.9"/>
<line x1="194.00" y1="501.90" x2="194.00" y2="504.50" stroke="#222" stroke-width="0.9"/>
<line x1="202.45" y1="501.90" x2="202.45" y2="504.50" stroke="#222" stroke-width="0.9"/>
<line x1="132.80" y1="501.90" x2="135.80" y2="501.90" stroke="#222" stroke-width="0.9"/>
<text x="130.50" y="504.10" font-size="6.4" fill="#262626" stroke="#262626" stroke-width="0.2" text-anchor="end">0</text>
<line x1="132.80" y1="490.56" x2="135.80" y2="490.56" stroke="#222" stroke-width="0.9"/>
<text x="130.50" y="492.76" font-size="6.4" fill="#262626" stroke="#262626" stroke-width="0.2" text-anchor="end">20</text>
<line x1="132.80" y1="479.22" x2="135.80" y2="479.22" stroke="#222" stroke-width="0.9"/>
<text x="130.50" y="481.42" font-size="6.4" fill="#262626" stroke="#262626" stroke-width="0.2" text-anchor="end">40</text>
<line x1="132.80" y1="467.88" x2="135.80" y2="467.88" stroke="#222" stroke-width="0.9"/>
<text x="130.50" y="470.08" font-size="6.4" fill="#262626" stroke="#262626" stroke-width="0.2" text-anchor="end">60</text>
<line x1="132.80" y1="456.54" x2="135.80" y2="456.54" stroke="#222" stroke-width="0.9"/>
<text x="130.50" y="458.74" font-size="6.4" fill="#262626" stroke="#262626" stroke-width="0.2" text-anchor="end">80</text>
<line x1="132.80" y1="445.20" x2="135.80" y2="445.20" stroke="#222" stroke-width="0.9"/>
<text x="130.50" y="447.40" font-size="6.4" fill="#262626" stroke="#262626" stroke-width="0.2" text-anchor="end">100</text>
<text transform="translate(140.60,511.30) rotate(-45)" font-size="6.1" fill="#262626" stroke="#262626" stroke-width="0.15" text-anchor="end">UN</text>
<text transform="translate(145.70,511.30) rotate(-45)" font-size="6.1" fill="#262626" stroke="#262626" stroke-width="0.15" text-anchor="end">-5</text>
<text transform="translate(154.15,511.30) rotate(-45)" font-size="6.1" fill="#262626" stroke="#262626" stroke-width="0.15" text-anchor="end">-4</text>
<text transform="translate(162.60,511.30) rotate(-45)" font-size="6.1" fill="#262626" stroke="#262626" stroke-width="0.15" text-anchor="end">-3</text>
<text transform="translate(171.05,511.30) rotate(-45)" font-size="6.1" fill="#262626" stroke="#262626" stroke-width="0.15" text-anchor="end">-2</text>
<text transform="translate(179.50,511.30) rotate(-45)" font-size="6.1" fill="#262626" stroke="#262626" stroke-width="0.15" text-anchor="end">-1</text>
<text transform="translate(187.95,511.30) rotate(-45)" font-size="6.1" fill="#262626" stroke="#262626" stroke-width="0.15" text-anchor="end">0</text>
<text transform="translate(196.40,511.30) rotate(-45)" font-size="6.1" fill="#262626" stroke="#262626" stroke-width="0.15" text-anchor="end">1</text>
<text transform="translate(204.85,511.30) rotate(-45)" font-size="6.1" fill="#262626" stroke="#262626" stroke-width="0.15" text-anchor="end">2</text>
<text transform="translate(114.20,471.40) rotate(-90)" font-size="7.7" fill="#262626" stroke="#262626" stroke-width="0.32" text-anchor="middle" textLength="56.8" lengthAdjust="spacingAndGlyphs">Percentage of live cells</text>
<text x="171.60" y="525.90" font-size="7.4" fill="#262626" stroke="#262626" stroke-width="0.32" text-anchor="middle" textLength="43.3" lengthAdjust="spacingAndGlyphs">Log [Conc (μM)]</text>
<text x="271.70" y="435.20" font-size="8.3" fill="#222" stroke="#222" stroke-width="0.1" text-anchor="middle" textLength="31.3" lengthAdjust="spacingAndGlyphs">Patient C</text>
<path d="M247.00,445.30 C248.33,445.39 252.33,445.49 255.00,445.87 C257.67,446.24 260.33,446.71 263.00,447.56 C265.67,448.41 268.33,449.54 271.00,450.95 C273.67,452.36 276.33,454.25 279.00,456.04 C281.67,457.82 284.33,459.90 287.00,461.69 C289.67,463.47 293.67,465.92 295.00,466.77" fill="none" stroke="#1a4a80" stroke-width="1.15" stroke-linejoin="round"/>
<path d="M263.00,447.84 C264.33,448.36 268.33,449.58 271.00,450.95 C273.67,452.32 276.33,454.25 279.00,456.04 C281.67,457.82 284.33,459.90 287.00,461.69 C289.67,463.47 293.67,465.92 295.00,466.77" fill="none" stroke="#c0102e" stroke-width="1.15" stroke-linejoin="round"/>
<rect x="241.10" y="444.00" width="2.60" height="2.60" fill="#1a4a80"/>
<rect x="261.70" y="445.13" width="2.60" height="2.60" fill="#1a4a80"/>
<rect x="261.70" y="446.26" width="2.60" height="2.60" fill="#1a4a80"/>
<rect x="269.70" y="453.04" width="2.60" height="2.60" fill="#1a4a80"/>
<rect x="277.70" y="454.17" width="2.60" height="2.60" fill="#1a4a80"/>
<rect x="285.70" y="460.38" width="2.60" height="2.60" fill="#1a4a80"/>
<rect x="293.70" y="465.47" width="2.60" height="2.60" fill="#1a4a80"/>
<circle cx="263.00" cy="448.69" r="1.3" fill="#c0102e"/>
<circle cx="271.00" cy="449.82" r="1.3" fill="#c0102e"/>
<circle cx="279.00" cy="455.47" r="1.3" fill="#c0102e"/>
<circle cx="287.00" cy="461.12" r="1.3" fill="#c0102e"/>
<line x1="238.30" y1="440.50" x2="238.30" y2="502.40" stroke="#222" stroke-width="1.2"/>
<line x1="237.70" y1="501.80" x2="244.00" y2="501.80" stroke="#222" stroke-width="1.2"/>
<line x1="246.40" y1="501.80" x2="303.80" y2="501.80" stroke="#222" stroke-width="1.2"/>
<line x1="242.40" y1="501.80" x2="242.40" y2="504.40" stroke="#222" stroke-width="0.9"/>
<line x1="247.00" y1="501.80" x2="247.00" y2="504.40" stroke="#222" stroke-width="0.9"/>
<line x1="255.00" y1="501.80" x2="255.00" y2="504.40" stroke="#222" stroke-width="0.9"/>
<line x1="263.00" y1="501.80" x2="263.00" y2="504.40" stroke="#222" stroke-width="0.9"/>
<line x1="271.00" y1="501.80" x2="271.00" y2="504.40" stroke="#222" stroke-width="0.9"/>
<line x1="279.00" y1="501.80" x2="279.00" y2="504.40" stroke="#222" stroke-width="0.9"/>
<line x1="287.00" y1="501.80" x2="287.00" y2="504.40" stroke="#222" stroke-width="0.9"/>
<line x1="295.00" y1="501.80" x2="295.00" y2="504.40" stroke="#222" stroke-width="0.9"/>
<line x1="303.00" y1="501.80" x2="303.00" y2="504.40" stroke="#222" stroke-width="0.9"/>
<line x1="235.30" y1="501.80" x2="238.30" y2="501.80" stroke="#222" stroke-width="0.9"/>
<text x="233.00" y="504.00" font-size="6.4" fill="#262626" stroke="#262626" stroke-width="0.2" text-anchor="end">0</text>
<line x1="235.30" y1="490.50" x2="238.30" y2="490.50" stroke="#222" stroke-width="0.9"/>
<text x="233.00" y="492.70" font-size="6.4" fill="#262626" stroke="#262626" stroke-width="0.2" text-anchor="end">20</text>
<line x1="235.30" y1="479.20" x2="238.30" y2="479.20" stroke="#222" stroke-width="0.9"/>
<text x="233.00" y="481.40" font-size="6.4" fill="#262626" stroke="#262626" stroke-width="0.2" text-anchor="end">40</text>
<line x1="235.30" y1="467.90" x2="238.30" y2="467.90" stroke="#222" stroke-width="0.9"/>
<text x="233.00" y="470.10" font-size="6.4" fill="#262626" stroke="#262626" stroke-width="0.2" text-anchor="end">60</text>
<line x1="235.30" y1="456.60" x2="238.30" y2="456.60" stroke="#222" stroke-width="0.9"/>
<text x="233.00" y="458.80" font-size="6.4" fill="#262626" stroke="#262626" stroke-width="0.2" text-anchor="end">80</text>
<line x1="235.30" y1="445.30" x2="238.30" y2="445.30" stroke="#222" stroke-width="0.9"/>
<text x="233.00" y="447.50" font-size="6.4" fill="#262626" stroke="#262626" stroke-width="0.2" text-anchor="end">100</text>
<text transform="translate(243.80,511.20) rotate(-45)" font-size="6.1" fill="#262626" stroke="#262626" stroke-width="0.15" text-anchor="end">UN</text>
<text transform="translate(249.40,511.20) rotate(-45)" font-size="6.1" fill="#262626" stroke="#262626" stroke-width="0.15" text-anchor="end">-5</text>
<text transform="translate(257.40,511.20) rotate(-45)" font-size="6.1" fill="#262626" stroke="#262626" stroke-width="0.15" text-anchor="end">-4</text>
<text transform="translate(265.40,511.20) rotate(-45)" font-size="6.1" fill="#262626" stroke="#262626" stroke-width="0.15" text-anchor="end">-3</text>
<text transform="translate(273.40,511.20) rotate(-45)" font-size="6.1" fill="#262626" stroke="#262626" stroke-width="0.15" text-anchor="end">-2</text>
<text transform="translate(281.40,511.20) rotate(-45)" font-size="6.1" fill="#262626" stroke="#262626" stroke-width="0.15" text-anchor="end">-1</text>
<text transform="translate(289.40,511.20) rotate(-45)" font-size="6.1" fill="#262626" stroke="#262626" stroke-width="0.15" text-anchor="end">0</text>
<text transform="translate(297.40,511.20) rotate(-45)" font-size="6.1" fill="#262626" stroke="#262626" stroke-width="0.15" text-anchor="end">1</text>
<text transform="translate(305.40,511.20) rotate(-45)" font-size="6.1" fill="#262626" stroke="#262626" stroke-width="0.15" text-anchor="end">2</text>
<text transform="translate(216.80,471.65) rotate(-90)" font-size="7.7" fill="#262626" stroke="#262626" stroke-width="0.32" text-anchor="middle" textLength="56.8" lengthAdjust="spacingAndGlyphs">Percentage of live cells</text>
<text x="273.70" y="525.90" font-size="7.4" fill="#262626" stroke="#262626" stroke-width="0.32" text-anchor="middle" textLength="43.3" lengthAdjust="spacingAndGlyphs">Log [Conc (μM)]</text>
<text x="374.70" y="435.20" font-size="8.3" fill="#222" stroke="#222" stroke-width="0.1" text-anchor="middle" textLength="31.3" lengthAdjust="spacingAndGlyphs">Patient D</text>
<path d="M344.50,446.58 C346.43,446.81 352.75,447.18 356.05,447.97 C359.35,448.75 361.55,449.72 364.30,451.30 C367.05,452.87 369.80,454.72 372.55,457.40 C375.30,460.08 378.05,463.97 380.80,467.39 C383.55,470.81 386.30,474.79 389.05,477.94 C391.80,481.08 395.93,484.87 397.30,486.26" fill="none" stroke="#c0102e" stroke-width="1.15" stroke-linejoin="round"/>
<polyline points="344.50,442.97 368.01,442.97 369.66,444.08 370.49,449.07 371.31,462.95 372.14,476.82 372.96,484.60 374.20,485.98 376.68,486.26 397.30,486.26" fill="none" stroke="#1a4a80" stroke-width="1.15" stroke-linejoin="round"/>
<rect x="342.10" y="445.00" width="2.60" height="2.60" fill="#1a4a80"/>
<rect x="371.25" y="473.31" width="2.60" height="2.60" fill="#1a4a80"/>
<rect x="379.50" y="479.41" width="2.60" height="2.60" fill="#1a4a80"/>
<rect x="387.75" y="487.18" width="2.60" height="2.60" fill="#1a4a80"/>
<rect x="396.00" y="491.06" width="2.60" height="2.60" fill="#1a4a80"/>
<circle cx="364.30" cy="452.41" r="1.3" fill="#c0102e"/>
<circle cx="372.55" cy="457.40" r="1.3" fill="#c0102e"/>
<circle cx="380.80" cy="473.50" r="1.3" fill="#c0102e"/>
<circle cx="389.05" cy="474.61" r="1.3" fill="#c0102e"/>
<circle cx="397.30" cy="486.26" r="1.3" fill="#c0102e"/>
<line x1="339.30" y1="441.20" x2="339.30" y2="502.40" stroke="#222" stroke-width="1.2"/>
<line x1="338.70" y1="501.80" x2="345.00" y2="501.80" stroke="#222" stroke-width="1.2"/>
<line x1="347.20" y1="501.80" x2="406.35" y2="501.80" stroke="#222" stroke-width="1.2"/>
<line x1="343.40" y1="501.80" x2="343.40" y2="504.40" stroke="#222" stroke-width="0.9"/>
<line x1="347.80" y1="501.80" x2="347.80" y2="504.40" stroke="#222" stroke-width="0.9"/>
<line x1="356.05" y1="501.80" x2="356.05" y2="504.40" stroke="#222" stroke-width="0.9"/>
<line x1="364.30" y1="501.80" x2="364.30" y2="504.40" stroke="#222" stroke-width="0.9"/>
<line x1="372.55" y1="501.80" x2="372.55" y2="504.40" stroke="#222" stroke-width="0.9"/>
<line x1="380.80" y1="501.80" x2="380.80" y2="504.40" stroke="#222" stroke-width="0.9"/>
<line x1="389.05" y1="501.80" x2="389.05" y2="504.40" stroke="#222" stroke-width="0.9"/>
<line x1="397.30" y1="501.80" x2="397.30" y2="504.40" stroke="#222" stroke-width="0.9"/>
<line x1="405.55" y1="501.80" x2="405.55" y2="504.40" stroke="#222" stroke-width="0.9"/>
<line x1="336.30" y1="501.80" x2="339.30" y2="501.80" stroke="#222" stroke-width="0.9"/>
<text x="334.00" y="504.00" font-size="6.4" fill="#262626" stroke="#262626" stroke-width="0.2" text-anchor="end">0</text>
<line x1="336.30" y1="490.70" x2="339.30" y2="490.70" stroke="#222" stroke-width="0.9"/>
<text x="334.00" y="492.90" font-size="6.4" fill="#262626" stroke="#262626" stroke-width="0.2" text-anchor="end">20</text>
<line x1="336.30" y1="479.60" x2="339.30" y2="479.60" stroke="#222" stroke-width="0.9"/>
<text x="334.00" y="481.80" font-size="6.4" fill="#262626" stroke="#262626" stroke-width="0.2" text-anchor="end">40</text>
<line x1="336.30" y1="468.50" x2="339.30" y2="468.50" stroke="#222" stroke-width="0.9"/>
<text x="334.00" y="470.70" font-size="6.4" fill="#262626" stroke="#262626" stroke-width="0.2" text-anchor="end">60</text>
<line x1="336.30" y1="457.40" x2="339.30" y2="457.40" stroke="#222" stroke-width="0.9"/>
<text x="334.00" y="459.60" font-size="6.4" fill="#262626" stroke="#262626" stroke-width="0.2" text-anchor="end">80</text>
<line x1="336.30" y1="446.30" x2="339.30" y2="446.30" stroke="#222" stroke-width="0.9"/>
<text x="334.00" y="448.50" font-size="6.4" fill="#262626" stroke="#262626" stroke-width="0.2" text-anchor="end">100</text>
<text transform="translate(344.80,511.20) rotate(-45)" font-size="6.1" fill="#262626" stroke="#262626" stroke-width="0.15" text-anchor="end">UN</text>
<text transform="translate(350.20,511.20) rotate(-45)" font-size="6.1" fill="#262626" stroke="#262626" stroke-width="0.15" text-anchor="end">-5</text>
<text transform="translate(358.45,511.20) rotate(-45)" font-size="6.1" fill="#262626" stroke="#262626" stroke-width="0.15" text-anchor="end">-4</text>
<text transform="translate(366.70,511.20) rotate(-45)" font-size="6.1" fill="#262626" stroke="#262626" stroke-width="0.15" text-anchor="end">-3</text>
<text transform="translate(374.95,511.20) rotate(-45)" font-size="6.1" fill="#262626" stroke="#262626" stroke-width="0.15" text-anchor="end">-2</text>
<text transform="translate(383.20,511.20) rotate(-45)" font-size="6.1" fill="#262626" stroke="#262626" stroke-width="0.15" text-anchor="end">-1</text>
<text transform="translate(391.45,511.20) rotate(-45)" font-size="6.1" fill="#262626" stroke="#262626" stroke-width="0.15" text-anchor="end">0</text>
<text transform="translate(399.70,511.20) rotate(-45)" font-size="6.1" fill="#262626" stroke="#262626" stroke-width="0.15" text-anchor="end">1</text>
<text transform="translate(407.95,511.20) rotate(-45)" font-size="6.1" fill="#262626" stroke="#262626" stroke-width="0.15" text-anchor="end">2</text>
<text transform="translate(317.40,472.00) rotate(-90)" font-size="7.7" fill="#262626" stroke="#262626" stroke-width="0.32" text-anchor="middle" textLength="56.8" lengthAdjust="spacingAndGlyphs">Percentage of live cells</text>
<text x="374.20" y="525.90" font-size="7.4" fill="#262626" stroke="#262626" stroke-width="0.32" text-anchor="middle" textLength="43.3" lengthAdjust="spacingAndGlyphs">Log [Conc (μM)]</text>
<text x="478.00" y="435.90" font-size="8.3" fill="#222" stroke="#222" stroke-width="0.1" text-anchor="middle" textLength="31.3" lengthAdjust="spacingAndGlyphs">Patient E</text>
<path d="M450.40,452.55 C451.81,453.26 456.03,455.20 458.85,456.80 C461.67,458.39 464.48,460.07 467.30,462.11 C470.12,464.14 472.93,466.44 475.75,469.01 C478.57,471.58 481.38,474.58 484.20,477.50 C487.02,480.43 489.83,482.95 492.65,486.53 C495.47,490.12 499.69,496.93 501.10,499.01" fill="none" stroke="#c0102e" stroke-width="1.15" stroke-linejoin="round"/>
<path d="M450.40,452.55 C451.81,453.79 456.03,456.66 458.85,459.98 C461.67,463.30 464.48,468.52 467.30,472.46 C470.12,476.40 472.93,480.43 475.75,483.61 C478.57,486.80 481.38,489.32 484.20,491.58 C487.02,493.83 489.83,495.82 492.65,497.15 C495.47,498.48 499.69,499.14 501.10,499.54" fill="none" stroke="#1a4a80" stroke-width="1.15" stroke-linejoin="round"/>
<rect x="443.50" y="447.00" width="2.60" height="2.60" fill="#1a4a80"/>
<rect x="466.00" y="470.89" width="2.60" height="2.60" fill="#1a4a80"/>
<rect x="474.45" y="483.64" width="2.60" height="2.60" fill="#1a4a80"/>
<rect x="482.90" y="491.07" width="2.60" height="2.60" fill="#1a4a80"/>
<rect x="491.35" y="495.85" width="2.60" height="2.60" fill="#1a4a80"/>
<rect x="499.80" y="497.98" width="2.60" height="2.60" fill="#1a4a80"/>
<circle cx="467.30" cy="462.64" r="1.3" fill="#c0102e"/>
<circle cx="475.75" cy="470.60" r="1.3" fill="#c0102e"/>
<circle cx="484.20" cy="479.10" r="1.3" fill="#c0102e"/>
<circle cx="492.65" cy="483.88" r="1.3" fill="#c0102e"/>
<circle cx="501.10" cy="498.75" r="1.3" fill="#c0102e"/>
<line x1="441.50" y1="443.00" x2="441.50" y2="502.00" stroke="#222" stroke-width="1.2"/>
<line x1="440.90" y1="501.40" x2="446.40" y2="501.40" stroke="#222" stroke-width="1.2"/>
<line x1="449.80" y1="501.40" x2="510.35" y2="501.40" stroke="#222" stroke-width="1.2"/>
<line x1="444.80" y1="501.40" x2="444.80" y2="504.00" stroke="#222" stroke-width="0.9"/>
<line x1="450.40" y1="501.40" x2="450.40" y2="504.00" stroke="#222" stroke-width="0.9"/>
<line x1="458.85" y1="501.40" x2="458.85" y2="504.00" stroke="#222" stroke-width="0.9"/>
<line x1="467.30" y1="501.40" x2="467.30" y2="504.00" stroke="#222" stroke-width="0.9"/>
<line x1="475.75" y1="501.40" x2="475.75" y2="504.00" stroke="#222" stroke-width="0.9"/>
<line x1="484.20" y1="501.40" x2="484.20" y2="504.00" stroke="#222" stroke-width="0.9"/>
<line x1="492.65" y1="501.40" x2="492.65" y2="504.00" stroke="#222" stroke-width="0.9"/>
<line x1="501.10" y1="501.40" x2="501.10" y2="504.00" stroke="#222" stroke-width="0.9"/>
<line x1="509.55" y1="501.40" x2="509.55" y2="504.00" stroke="#222" stroke-width="0.9"/>
<line x1="438.50" y1="501.40" x2="441.50" y2="501.40" stroke="#222" stroke-width="0.9"/>
<text x="436.20" y="503.60" font-size="6.4" fill="#262626" stroke="#262626" stroke-width="0.2" text-anchor="end">0</text>
<line x1="438.50" y1="490.78" x2="441.50" y2="490.78" stroke="#222" stroke-width="0.9"/>
<text x="436.20" y="492.98" font-size="6.4" fill="#262626" stroke="#262626" stroke-width="0.2" text-anchor="end">20</text>
<line x1="438.50" y1="480.16" x2="441.50" y2="480.16" stroke="#222" stroke-width="0.9"/>
<text x="436.20" y="482.36" font-size="6.4" fill="#262626" stroke="#262626" stroke-width="0.2" text-anchor="end">40</text>
<line x1="438.50" y1="469.54" x2="441.50" y2="469.54" stroke="#222" stroke-width="0.9"/>
<text x="436.20" y="471.74" font-size="6.4" fill="#262626" stroke="#262626" stroke-width="0.2" text-anchor="end">60</text>
<line x1="438.50" y1="458.92" x2="441.50" y2="458.92" stroke="#222" stroke-width="0.9"/>
<text x="436.20" y="461.12" font-size="6.4" fill="#262626" stroke="#262626" stroke-width="0.2" text-anchor="end">80</text>
<line x1="438.50" y1="448.30" x2="441.50" y2="448.30" stroke="#222" stroke-width="0.9"/>
<text x="436.20" y="450.50" font-size="6.4" fill="#262626" stroke="#262626" stroke-width="0.2" text-anchor="end">100</text>
<text transform="translate(446.20,510.80) rotate(-45)" font-size="6.1" fill="#262626" stroke="#262626" stroke-width="0.15" text-anchor="end">UN</text>
<text transform="translate(452.80,510.80) rotate(-45)" font-size="6.1" fill="#262626" stroke="#262626" stroke-width="0.15" text-anchor="end">-5</text>
<text transform="translate(461.25,510.80) rotate(-45)" font-size="6.1" fill="#262626" stroke="#262626" stroke-width="0.15" text-anchor="end">-4</text>
<text transform="translate(469.70,510.80) rotate(-45)" font-size="6.1" fill="#262626" stroke="#262626" stroke-width="0.15" text-anchor="end">-3</text>
<text transform="translate(478.15,510.80) rotate(-45)" font-size="6.1" fill="#262626" stroke="#262626" stroke-width="0.15" text-anchor="end">-2</text>
<text transform="translate(486.60,510.80) rotate(-45)" font-size="6.1" fill="#262626" stroke="#262626" stroke-width="0.15" text-anchor="end">-1</text>
<text transform="translate(495.05,510.80) rotate(-45)" font-size="6.1" fill="#262626" stroke="#262626" stroke-width="0.15" text-anchor="end">0</text>
<text transform="translate(503.50,510.80) rotate(-45)" font-size="6.1" fill="#262626" stroke="#262626" stroke-width="0.15" text-anchor="end">1</text>
<text transform="translate(511.95,510.80) rotate(-45)" font-size="6.1" fill="#262626" stroke="#262626" stroke-width="0.15" text-anchor="end">2</text>
<text transform="translate(418.80,472.70) rotate(-90)" font-size="7.7" fill="#262626" stroke="#262626" stroke-width="0.32" text-anchor="middle" textLength="56.8" lengthAdjust="spacingAndGlyphs">Percentage of live cells</text>
<text x="478.00" y="525.20" font-size="7.4" fill="#262626" stroke="#262626" stroke-width="0.32" text-anchor="middle" textLength="43.3" lengthAdjust="spacingAndGlyphs">Log [Conc (μM)]</text>
<text x="68.70" y="547.20" font-size="8.3" fill="#222" stroke="#222" stroke-width="0.1" text-anchor="middle" textLength="31.3" lengthAdjust="spacingAndGlyphs">Patient F</text>
<path d="M43.40,561.30 C46.06,561.30 55.37,561.17 59.36,561.30 C63.35,561.43 64.68,561.39 67.34,562.10 C70.00,562.80 73.32,564.26 75.32,565.55 C77.31,566.83 77.98,567.85 79.31,569.80 C80.64,571.74 81.97,573.78 83.30,577.23 C84.63,580.68 85.96,585.11 87.29,590.50 C88.62,595.90 90.61,606.43 91.28,609.62" fill="none" stroke="#1a4a80" stroke-width="1.15" stroke-linejoin="round"/>
<path d="M43.40,562.36 C46.06,562.98 55.37,564.49 59.36,566.08 C63.35,567.67 64.68,569.53 67.34,571.92 C70.00,574.31 72.66,577.50 75.32,580.42 C77.98,583.34 80.64,586.52 83.30,589.44 C85.96,592.36 89.95,596.52 91.28,597.94" fill="none" stroke="#c0102e" stroke-width="1.15" stroke-linejoin="round"/>
<rect x="37.50" y="560.00" width="2.60" height="2.60" fill="#1a4a80"/>
<rect x="58.06" y="558.94" width="2.60" height="2.60" fill="#1a4a80"/>
<rect x="66.04" y="561.06" width="2.60" height="2.60" fill="#1a4a80"/>
<rect x="74.02" y="567.97" width="2.60" height="2.60" fill="#1a4a80"/>
<rect x="82.00" y="578.59" width="2.60" height="2.60" fill="#1a4a80"/>
<rect x="89.98" y="608.32" width="2.60" height="2.60" fill="#1a4a80"/>
<circle cx="59.36" cy="565.02" r="1.3" fill="#c0102e"/>
<circle cx="67.34" cy="578.82" r="1.3" fill="#c0102e"/>
<circle cx="75.32" cy="584.13" r="1.3" fill="#c0102e"/>
<circle cx="83.30" cy="585.19" r="1.3" fill="#c0102e"/>
<circle cx="91.28" cy="598.47" r="1.3" fill="#c0102e"/>
<line x1="34.70" y1="556.30" x2="34.70" y2="615.00" stroke="#222" stroke-width="1.2"/>
<line x1="34.10" y1="614.40" x2="40.40" y2="614.40" stroke="#222" stroke-width="1.2"/>
<line x1="42.80" y1="614.40" x2="100.06" y2="614.40" stroke="#222" stroke-width="1.2"/>
<line x1="38.80" y1="614.40" x2="38.80" y2="617.00" stroke="#222" stroke-width="0.9"/>
<line x1="43.40" y1="614.40" x2="43.40" y2="617.00" stroke="#222" stroke-width="0.9"/>
<line x1="51.38" y1="614.40" x2="51.38" y2="617.00" stroke="#222" stroke-width="0.9"/>
<line x1="59.36" y1="614.40" x2="59.36" y2="617.00" stroke="#222" stroke-width="0.9"/>
<line x1="67.34" y1="614.40" x2="67.34" y2="617.00" stroke="#222" stroke-width="0.9"/>
<line x1="75.32" y1="614.40" x2="75.32" y2="617.00" stroke="#222" stroke-width="0.9"/>
<line x1="83.30" y1="614.40" x2="83.30" y2="617.00" stroke="#222" stroke-width="0.9"/>
<line x1="91.28" y1="614.40" x2="91.28" y2="617.00" stroke="#222" stroke-width="0.9"/>
<line x1="99.26" y1="614.40" x2="99.26" y2="617.00" stroke="#222" stroke-width="0.9"/>
<line x1="31.70" y1="614.40" x2="34.70" y2="614.40" stroke="#222" stroke-width="0.9"/>
<text x="29.40" y="616.60" font-size="6.4" fill="#262626" stroke="#262626" stroke-width="0.2" text-anchor="end">0</text>
<line x1="31.70" y1="603.78" x2="34.70" y2="603.78" stroke="#222" stroke-width="0.9"/>
<text x="29.40" y="605.98" font-size="6.4" fill="#262626" stroke="#262626" stroke-width="0.2" text-anchor="end">20</text>
<line x1="31.70" y1="593.16" x2="34.70" y2="593.16" stroke="#222" stroke-width="0.9"/>
<text x="29.40" y="595.36" font-size="6.4" fill="#262626" stroke="#262626" stroke-width="0.2" text-anchor="end">40</text>
<line x1="31.70" y1="582.54" x2="34.70" y2="582.54" stroke="#222" stroke-width="0.9"/>
<text x="29.40" y="584.74" font-size="6.4" fill="#262626" stroke="#262626" stroke-width="0.2" text-anchor="end">60</text>
<line x1="31.70" y1="571.92" x2="34.70" y2="571.92" stroke="#222" stroke-width="0.9"/>
<text x="29.40" y="574.12" font-size="6.4" fill="#262626" stroke="#262626" stroke-width="0.2" text-anchor="end">80</text>
<line x1="31.70" y1="561.30" x2="34.70" y2="561.30" stroke="#222" stroke-width="0.9"/>
<text x="29.40" y="563.50" font-size="6.4" fill="#262626" stroke="#262626" stroke-width="0.2" text-anchor="end">100</text>
<text transform="translate(40.20,623.80) rotate(-45)" font-size="6.1" fill="#262626" stroke="#262626" stroke-width="0.15" text-anchor="end">UN</text>
<text transform="translate(45.80,623.80) rotate(-45)" font-size="6.1" fill="#262626" stroke="#262626" stroke-width="0.15" text-anchor="end">-5</text>
<text transform="translate(53.78,623.80) rotate(-45)" font-size="6.1" fill="#262626" stroke="#262626" stroke-width="0.15" text-anchor="end">-4</text>
<text transform="translate(61.76,623.80) rotate(-45)" font-size="6.1" fill="#262626" stroke="#262626" stroke-width="0.15" text-anchor="end">-3</text>
<text transform="translate(69.74,623.80) rotate(-45)" font-size="6.1" fill="#262626" stroke="#262626" stroke-width="0.15" text-anchor="end">-2</text>
<text transform="translate(77.72,623.80) rotate(-45)" font-size="6.1" fill="#262626" stroke="#262626" stroke-width="0.15" text-anchor="end">-1</text>
<text transform="translate(85.70,623.80) rotate(-45)" font-size="6.1" fill="#262626" stroke="#262626" stroke-width="0.15" text-anchor="end">0</text>
<text transform="translate(93.68,623.80) rotate(-45)" font-size="6.1" fill="#262626" stroke="#262626" stroke-width="0.15" text-anchor="end">1</text>
<text transform="translate(101.66,623.80) rotate(-45)" font-size="6.1" fill="#262626" stroke="#262626" stroke-width="0.15" text-anchor="end">2</text>
<text transform="translate(13.00,585.85) rotate(-90)" font-size="7.7" fill="#262626" stroke="#262626" stroke-width="0.32" text-anchor="middle" textLength="56.8" lengthAdjust="spacingAndGlyphs">Percentage of live cells</text>
<text x="68.70" y="637.50" font-size="7.4" fill="#262626" stroke="#262626" stroke-width="0.32" text-anchor="middle" textLength="43.3" lengthAdjust="spacingAndGlyphs">Log [Conc (μM)]</text>
<text x="169.60" y="547.20" font-size="8.3" fill="#222" stroke="#222" stroke-width="0.1" text-anchor="middle" textLength="31.3" lengthAdjust="spacingAndGlyphs">Patient G</text>
<path d="M143.09,559.58 C144.57,559.87 149.16,560.63 152.00,561.30 C154.84,561.96 157.40,562.72 160.10,563.58 C162.80,564.44 165.50,565.29 168.20,566.44 C170.90,567.58 173.60,568.91 176.30,570.43 C179.00,571.96 181.70,573.86 184.40,575.57 C187.10,577.28 191.15,579.85 192.50,580.71" fill="none" stroke="#c0102e" stroke-width="1.15" stroke-linejoin="round"/>
<polyline points="143.09,561.87 172.66,561.87 173.87,564.15 174.68,571.57 175.49,581.28 176.30,586.14 177.52,586.99 192.50,586.99" fill="none" stroke="#1a4a80" stroke-width="1.15" stroke-linejoin="round"/>
<rect x="138.00" y="556.00" width="2.60" height="2.60" fill="#1a4a80"/>
<rect x="158.80" y="560.00" width="2.60" height="2.60" fill="#1a4a80"/>
<rect x="175.00" y="566.85" width="2.60" height="2.60" fill="#1a4a80"/>
<rect x="183.10" y="590.26" width="2.60" height="2.60" fill="#1a4a80"/>
<rect x="191.20" y="581.12" width="2.60" height="2.60" fill="#1a4a80"/>
<circle cx="160.10" cy="564.15" r="1.3" fill="#c0102e"/>
<circle cx="168.20" cy="567.58" r="1.3" fill="#c0102e"/>
<circle cx="176.30" cy="569.86" r="1.3" fill="#c0102e"/>
<circle cx="184.40" cy="576.71" r="1.3" fill="#c0102e"/>
<circle cx="192.50" cy="581.28" r="1.3" fill="#c0102e"/>
<line x1="135.70" y1="552.20" x2="135.70" y2="615.00" stroke="#222" stroke-width="1.2"/>
<line x1="135.10" y1="614.40" x2="140.90" y2="614.40" stroke="#222" stroke-width="1.2"/>
<line x1="143.30" y1="614.40" x2="201.40" y2="614.40" stroke="#222" stroke-width="1.2"/>
<line x1="139.30" y1="614.40" x2="139.30" y2="617.00" stroke="#222" stroke-width="0.9"/>
<line x1="143.90" y1="614.40" x2="143.90" y2="617.00" stroke="#222" stroke-width="0.9"/>
<line x1="152.00" y1="614.40" x2="152.00" y2="617.00" stroke="#222" stroke-width="0.9"/>
<line x1="160.10" y1="614.40" x2="160.10" y2="617.00" stroke="#222" stroke-width="0.9"/>
<line x1="168.20" y1="614.40" x2="168.20" y2="617.00" stroke="#222" stroke-width="0.9"/>
<line x1="176.30" y1="614.40" x2="176.30" y2="617.00" stroke="#222" stroke-width="0.9"/>
<line x1="184.40" y1="614.40" x2="184.40" y2="617.00" stroke="#222" stroke-width="0.9"/>
<line x1="192.50" y1="614.40" x2="192.50" y2="617.00" stroke="#222" stroke-width="0.9"/>
<line x1="200.60" y1="614.40" x2="200.60" y2="617.00" stroke="#222" stroke-width="0.9"/>
<line x1="132.70" y1="614.40" x2="135.70" y2="614.40" stroke="#222" stroke-width="0.9"/>
<text x="130.40" y="616.60" font-size="6.4" fill="#262626" stroke="#262626" stroke-width="0.2" text-anchor="end">0</text>
<line x1="132.70" y1="602.98" x2="135.70" y2="602.98" stroke="#222" stroke-width="0.9"/>
<text x="130.40" y="605.18" font-size="6.4" fill="#262626" stroke="#262626" stroke-width="0.2" text-anchor="end">20</text>
<line x1="132.70" y1="591.56" x2="135.70" y2="591.56" stroke="#222" stroke-width="0.9"/>
<text x="130.40" y="593.76" font-size="6.4" fill="#262626" stroke="#262626" stroke-width="0.2" text-anchor="end">40</text>
<line x1="132.70" y1="580.14" x2="135.70" y2="580.14" stroke="#222" stroke-width="0.9"/>
<text x="130.40" y="582.34" font-size="6.4" fill="#262626" stroke="#262626" stroke-width="0.2" text-anchor="end">60</text>
<line x1="132.70" y1="568.72" x2="135.70" y2="568.72" stroke="#222" stroke-width="0.9"/>
<text x="130.40" y="570.92" font-size="6.4" fill="#262626" stroke="#262626" stroke-width="0.2" text-anchor="end">80</text>
<line x1="132.70" y1="557.30" x2="135.70" y2="557.30" stroke="#222" stroke-width="0.9"/>
<text x="130.40" y="559.50" font-size="6.4" fill="#262626" stroke="#262626" stroke-width="0.2" text-anchor="end">100</text>
<text transform="translate(140.70,623.80) rotate(-45)" font-size="6.1" fill="#262626" stroke="#262626" stroke-width="0.15" text-anchor="end">UN</text>
<text transform="translate(146.30,623.80) rotate(-45)" font-size="6.1" fill="#262626" stroke="#262626" stroke-width="0.15" text-anchor="end">-5</text>
<text transform="translate(154.40,623.80) rotate(-45)" font-size="6.1" fill="#262626" stroke="#262626" stroke-width="0.15" text-anchor="end">-4</text>
<text transform="translate(162.50,623.80) rotate(-45)" font-size="6.1" fill="#262626" stroke="#262626" stroke-width="0.15" text-anchor="end">-3</text>
<text transform="translate(170.60,623.80) rotate(-45)" font-size="6.1" fill="#262626" stroke="#262626" stroke-width="0.15" text-anchor="end">-2</text>
<text transform="translate(178.70,623.80) rotate(-45)" font-size="6.1" fill="#262626" stroke="#262626" stroke-width="0.15" text-anchor="end">-1</text>
<text transform="translate(186.80,623.80) rotate(-45)" font-size="6.1" fill="#262626" stroke="#262626" stroke-width="0.15" text-anchor="end">0</text>
<text transform="translate(194.90,623.80) rotate(-45)" font-size="6.1" fill="#262626" stroke="#262626" stroke-width="0.15" text-anchor="end">1</text>
<text transform="translate(203.00,623.80) rotate(-45)" font-size="6.1" fill="#262626" stroke="#262626" stroke-width="0.15" text-anchor="end">2</text>
<text transform="translate(113.80,583.80) rotate(-90)" font-size="7.7" fill="#262626" stroke="#262626" stroke-width="0.32" text-anchor="middle" textLength="56.8" lengthAdjust="spacingAndGlyphs">Percentage of live cells</text>
<text x="170.20" y="637.50" font-size="7.4" fill="#262626" stroke="#262626" stroke-width="0.32" text-anchor="middle" textLength="43.3" lengthAdjust="spacingAndGlyphs">Log [Conc (μM)]</text>
<text x="271.70" y="549.20" font-size="8.3" fill="#222" stroke="#222" stroke-width="0.1" text-anchor="middle" textLength="31.3" lengthAdjust="spacingAndGlyphs">Patient M</text>
<path d="M246.40,580.03 C247.71,580.66 251.63,582.45 254.25,583.79 C256.87,585.13 259.48,586.57 262.10,588.09 C264.72,589.61 267.33,591.13 269.95,592.92 C272.57,594.71 275.18,596.95 277.80,598.83 C280.42,600.71 283.03,602.68 285.65,604.20 C288.27,605.72 292.19,607.33 293.50,607.96" fill="none" stroke="#f0a030" stroke-width="1.15" stroke-linejoin="round"/>
<path d="M246.40,580.03 C249.02,580.12 258.18,580.30 262.10,580.57 C266.03,580.84 267.33,581.02 269.95,581.64 C272.57,582.27 275.84,583.52 277.80,584.33 C279.76,585.13 280.42,585.49 281.73,586.48 C283.03,587.46 284.34,588.53 285.65,590.24 C286.96,591.94 288.27,594.35 289.57,596.68 C290.88,599.01 292.85,602.94 293.50,604.20" fill="none" stroke="#c0102e" stroke-width="1.15" stroke-linejoin="round"/>
<path d="M246.40,580.03 C247.71,580.08 251.63,580.21 254.25,580.30 C256.87,580.39 259.48,580.35 262.10,580.57 C264.72,580.79 267.99,580.93 269.95,581.64 C271.91,582.36 272.57,582.81 273.88,584.87 C275.18,586.92 276.49,590.68 277.80,593.99 C279.11,597.31 280.42,602.32 281.73,604.73 C283.03,607.15 283.69,607.69 285.65,608.49 C287.61,609.30 292.19,609.39 293.50,609.57" fill="none" stroke="#1a4a80" stroke-width="1.15" stroke-linejoin="round"/>
<rect x="240.50" y="576.58" width="2.60" height="2.60" fill="#1a4a80"/>
<rect x="260.80" y="582.49" width="2.60" height="2.60" fill="#1a4a80"/>
<rect x="268.65" y="580.88" width="2.60" height="2.60" fill="#1a4a80"/>
<rect x="276.50" y="594.84" width="2.60" height="2.60" fill="#1a4a80"/>
<rect x="284.35" y="607.19" width="2.60" height="2.60" fill="#1a4a80"/>
<rect x="292.20" y="608.80" width="2.60" height="2.60" fill="#1a4a80"/>
<circle cx="241.80" cy="580.03" r="1.3" fill="#c0102e"/>
<circle cx="269.95" cy="582.18" r="1.3" fill="#c0102e"/>
<circle cx="277.80" cy="587.01" r="1.3" fill="#c0102e"/>
<circle cx="285.65" cy="588.62" r="1.3" fill="#c0102e"/>
<circle cx="293.50" cy="604.73" r="1.3" fill="#c0102e"/>
<line x1="238.30" y1="555.90" x2="238.30" y2="615.00" stroke="#222" stroke-width="1.2"/>
<line x1="237.70" y1="614.40" x2="243.40" y2="614.40" stroke="#222" stroke-width="1.2"/>
<line x1="245.80" y1="614.40" x2="302.15" y2="614.40" stroke="#222" stroke-width="1.2"/>
<line x1="241.80" y1="614.40" x2="241.80" y2="617.00" stroke="#222" stroke-width="0.9"/>
<line x1="246.40" y1="614.40" x2="246.40" y2="617.00" stroke="#222" stroke-width="0.9"/>
<line x1="254.25" y1="614.40" x2="254.25" y2="617.00" stroke="#222" stroke-width="0.9"/>
<line x1="262.10" y1="614.40" x2="262.10" y2="617.00" stroke="#222" stroke-width="0.9"/>
<line x1="269.95" y1="614.40" x2="269.95" y2="617.00" stroke="#222" stroke-width="0.9"/>
<line x1="277.80" y1="614.40" x2="277.80" y2="617.00" stroke="#222" stroke-width="0.9"/>
<line x1="285.65" y1="614.40" x2="285.65" y2="617.00" stroke="#222" stroke-width="0.9"/>
<line x1="293.50" y1="614.40" x2="293.50" y2="617.00" stroke="#222" stroke-width="0.9"/>
<line x1="301.35" y1="614.40" x2="301.35" y2="617.00" stroke="#222" stroke-width="0.9"/>
<line x1="235.30" y1="614.40" x2="238.30" y2="614.40" stroke="#222" stroke-width="0.9"/>
<text x="233.00" y="616.60" font-size="6.4" fill="#262626" stroke="#262626" stroke-width="0.2" text-anchor="end">0</text>
<line x1="235.30" y1="603.66" x2="238.30" y2="603.66" stroke="#222" stroke-width="0.9"/>
<text x="233.00" y="605.86" font-size="6.4" fill="#262626" stroke="#262626" stroke-width="0.2" text-anchor="end">20</text>
<line x1="235.30" y1="592.92" x2="238.30" y2="592.92" stroke="#222" stroke-width="0.9"/>
<text x="233.00" y="595.12" font-size="6.4" fill="#262626" stroke="#262626" stroke-width="0.2" text-anchor="end">40</text>
<line x1="235.30" y1="582.18" x2="238.30" y2="582.18" stroke="#222" stroke-width="0.9"/>
<text x="233.00" y="584.38" font-size="6.4" fill="#262626" stroke="#262626" stroke-width="0.2" text-anchor="end">60</text>
<line x1="235.30" y1="571.44" x2="238.30" y2="571.44" stroke="#222" stroke-width="0.9"/>
<text x="233.00" y="573.64" font-size="6.4" fill="#262626" stroke="#262626" stroke-width="0.2" text-anchor="end">80</text>
<line x1="235.30" y1="560.70" x2="238.30" y2="560.70" stroke="#222" stroke-width="0.9"/>
<text x="233.00" y="562.90" font-size="6.4" fill="#262626" stroke="#262626" stroke-width="0.2" text-anchor="end">100</text>
<text transform="translate(243.20,623.80) rotate(-45)" font-size="6.1" fill="#262626" stroke="#262626" stroke-width="0.15" text-anchor="end">UN</text>
<text transform="translate(248.80,623.80) rotate(-45)" font-size="6.1" fill="#262626" stroke="#262626" stroke-width="0.15" text-anchor="end">-5</text>
<text transform="translate(256.65,623.80) rotate(-45)" font-size="6.1" fill="#262626" stroke="#262626" stroke-width="0.15" text-anchor="end">-4</text>
<text transform="translate(264.50,623.80) rotate(-45)" font-size="6.1" fill="#262626" stroke="#262626" stroke-width="0.15" text-anchor="end">-3</text>
<text transform="translate(272.35,623.80) rotate(-45)" font-size="6.1" fill="#262626" stroke="#262626" stroke-width="0.15" text-anchor="end">-2</text>
<text transform="translate(280.20,623.80) rotate(-45)" font-size="6.1" fill="#262626" stroke="#262626" stroke-width="0.15" text-anchor="end">-1</text>
<text transform="translate(288.05,623.80) rotate(-45)" font-size="6.1" fill="#262626" stroke="#262626" stroke-width="0.15" text-anchor="end">0</text>
<text transform="translate(295.90,623.80) rotate(-45)" font-size="6.1" fill="#262626" stroke="#262626" stroke-width="0.15" text-anchor="end">1</text>
<text transform="translate(303.75,623.80) rotate(-45)" font-size="6.1" fill="#262626" stroke="#262626" stroke-width="0.15" text-anchor="end">2</text>
<text transform="translate(216.80,585.65) rotate(-90)" font-size="7.7" fill="#262626" stroke="#262626" stroke-width="0.32" text-anchor="middle" textLength="56.8" lengthAdjust="spacingAndGlyphs">Percentage of live cells</text>
<text x="271.20" y="637.50" font-size="7.4" fill="#262626" stroke="#262626" stroke-width="0.32" text-anchor="middle" textLength="43.3" lengthAdjust="spacingAndGlyphs">Log [Conc (μM)]</text>
<text x="371.70" y="548.20" font-size="8.3" fill="#222" stroke="#222" stroke-width="0.1" text-anchor="middle" textLength="31.3" lengthAdjust="spacingAndGlyphs">Patient N</text>
<path d="M347.00,586.47 C349.61,586.56 358.73,586.12 362.64,587.00 C366.55,587.87 367.85,590.16 370.46,591.74 C373.07,593.32 375.67,594.81 378.28,596.48 C380.89,598.15 383.49,600.00 386.10,601.75 C388.71,603.51 392.62,606.14 393.92,607.02" fill="none" stroke="#f0a030" stroke-width="1.15" stroke-linejoin="round"/>
<path d="M347.00,586.47 C348.95,586.51 356.12,586.47 358.73,586.73 C361.34,587.00 361.34,587.13 362.64,588.05 C363.94,588.97 365.25,590.68 366.55,592.27 C367.85,593.85 369.16,595.78 370.46,597.54 C371.76,599.29 373.07,601.23 374.37,602.81 C375.67,604.39 376.32,606.06 378.28,607.02 C380.23,607.99 383.49,608.25 386.10,608.60 C388.71,608.95 392.62,609.04 393.92,609.13" fill="none" stroke="#c0102e" stroke-width="1.15" stroke-linejoin="round"/>
<path d="M347.00,586.47 C349.61,586.47 359.38,586.21 362.64,586.47 C365.90,586.73 365.25,587.26 366.55,588.05 C367.85,588.84 369.16,589.46 370.46,591.21 C371.76,592.97 373.07,596.13 374.37,598.59 C375.67,601.05 376.32,604.12 378.28,605.97 C380.23,607.81 383.49,608.95 386.10,609.66 C388.71,610.36 392.62,610.10 393.92,610.18" fill="none" stroke="#1a4a80" stroke-width="1.15" stroke-linejoin="round"/>
<rect x="340.50" y="585.70" width="2.60" height="2.60" fill="#1a4a80"/>
<rect x="361.34" y="584.12" width="2.60" height="2.60" fill="#1a4a80"/>
<rect x="369.16" y="589.91" width="2.60" height="2.60" fill="#1a4a80"/>
<rect x="376.98" y="605.20" width="2.60" height="2.60" fill="#1a4a80"/>
<rect x="384.80" y="608.88" width="2.60" height="2.60" fill="#1a4a80"/>
<rect x="392.62" y="609.41" width="2.60" height="2.60" fill="#1a4a80"/>
<circle cx="362.64" cy="588.05" r="1.3" fill="#c0102e"/>
<circle cx="370.46" cy="598.59" r="1.3" fill="#c0102e"/>
<circle cx="378.28" cy="605.97" r="1.3" fill="#c0102e"/>
<circle cx="386.10" cy="607.55" r="1.3" fill="#c0102e"/>
<circle cx="393.92" cy="610.18" r="1.3" fill="#c0102e"/>
<line x1="338.30" y1="557.30" x2="338.30" y2="615.00" stroke="#222" stroke-width="1.2"/>
<line x1="337.70" y1="614.40" x2="343.40" y2="614.40" stroke="#222" stroke-width="1.2"/>
<line x1="346.40" y1="614.40" x2="402.54" y2="614.40" stroke="#222" stroke-width="1.2"/>
<line x1="341.80" y1="614.40" x2="341.80" y2="617.00" stroke="#222" stroke-width="0.9"/>
<line x1="347.00" y1="614.40" x2="347.00" y2="617.00" stroke="#222" stroke-width="0.9"/>
<line x1="354.82" y1="614.40" x2="354.82" y2="617.00" stroke="#222" stroke-width="0.9"/>
<line x1="362.64" y1="614.40" x2="362.64" y2="617.00" stroke="#222" stroke-width="0.9"/>
<line x1="370.46" y1="614.40" x2="370.46" y2="617.00" stroke="#222" stroke-width="0.9"/>
<line x1="378.28" y1="614.40" x2="378.28" y2="617.00" stroke="#222" stroke-width="0.9"/>
<line x1="386.10" y1="614.40" x2="386.10" y2="617.00" stroke="#222" stroke-width="0.9"/>
<line x1="393.92" y1="614.40" x2="393.92" y2="617.00" stroke="#222" stroke-width="0.9"/>
<line x1="401.74" y1="614.40" x2="401.74" y2="617.00" stroke="#222" stroke-width="0.9"/>
<line x1="335.30" y1="614.40" x2="338.30" y2="614.40" stroke="#222" stroke-width="0.9"/>
<text x="333.00" y="616.60" font-size="6.4" fill="#262626" stroke="#262626" stroke-width="0.2" text-anchor="end">0</text>
<line x1="335.30" y1="603.86" x2="338.30" y2="603.86" stroke="#222" stroke-width="0.9"/>
<text x="333.00" y="606.06" font-size="6.4" fill="#262626" stroke="#262626" stroke-width="0.2" text-anchor="end">20</text>
<line x1="335.30" y1="593.32" x2="338.30" y2="593.32" stroke="#222" stroke-width="0.9"/>
<text x="333.00" y="595.52" font-size="6.4" fill="#262626" stroke="#262626" stroke-width="0.2" text-anchor="end">40</text>
<line x1="335.30" y1="582.78" x2="338.30" y2="582.78" stroke="#222" stroke-width="0.9"/>
<text x="333.00" y="584.98" font-size="6.4" fill="#262626" stroke="#262626" stroke-width="0.2" text-anchor="end">60</text>
<line x1="335.30" y1="572.24" x2="338.30" y2="572.24" stroke="#222" stroke-width="0.9"/>
<text x="333.00" y="574.44" font-size="6.4" fill="#262626" stroke="#262626" stroke-width="0.2" text-anchor="end">80</text>
<line x1="335.30" y1="561.70" x2="338.30" y2="561.70" stroke="#222" stroke-width="0.9"/>
<text x="333.00" y="563.90" font-size="6.4" fill="#262626" stroke="#262626" stroke-width="0.2" text-anchor="end">100</text>
<text transform="translate(343.20,623.80) rotate(-45)" font-size="6.1" fill="#262626" stroke="#262626" stroke-width="0.15" text-anchor="end">UN</text>
<text transform="translate(349.40,623.80) rotate(-45)" font-size="6.1" fill="#262626" stroke="#262626" stroke-width="0.15" text-anchor="end">-5</text>
<text transform="translate(357.22,623.80) rotate(-45)" font-size="6.1" fill="#262626" stroke="#262626" stroke-width="0.15" text-anchor="end">-4</text>
<text transform="translate(365.04,623.80) rotate(-45)" font-size="6.1" fill="#262626" stroke="#262626" stroke-width="0.15" text-anchor="end">-3</text>
<text transform="translate(372.86,623.80) rotate(-45)" font-size="6.1" fill="#262626" stroke="#262626" stroke-width="0.15" text-anchor="end">-2</text>
<text transform="translate(380.68,623.80) rotate(-45)" font-size="6.1" fill="#262626" stroke="#262626" stroke-width="0.15" text-anchor="end">-1</text>
<text transform="translate(388.50,623.80) rotate(-45)" font-size="6.1" fill="#262626" stroke="#262626" stroke-width="0.15" text-anchor="end">0</text>
<text transform="translate(396.32,623.80) rotate(-45)" font-size="6.1" fill="#262626" stroke="#262626" stroke-width="0.15" text-anchor="end">1</text>
<text transform="translate(404.14,623.80) rotate(-45)" font-size="6.1" fill="#262626" stroke="#262626" stroke-width="0.15" text-anchor="end">2</text>
<text transform="translate(316.80,586.35) rotate(-90)" font-size="7.7" fill="#262626" stroke="#262626" stroke-width="0.32" text-anchor="middle" textLength="56.8" lengthAdjust="spacingAndGlyphs">Percentage of live cells</text>
<text x="371.20" y="637.50" font-size="7.4" fill="#262626" stroke="#262626" stroke-width="0.32" text-anchor="middle" textLength="43.3" lengthAdjust="spacingAndGlyphs">Log [Conc (μM)]</text>
<text x="472.50" y="548.10" font-size="8.3" fill="#222" stroke="#222" stroke-width="0.1" text-anchor="middle" textLength="31.3" lengthAdjust="spacingAndGlyphs">Patient O</text>
<path d="M450.40,587.75 C453.07,587.84 462.40,587.93 466.40,588.29 C470.40,588.66 471.73,589.20 474.40,589.93 C477.07,590.66 479.73,591.29 482.40,592.66 C485.07,594.02 488.40,596.30 490.40,598.12 C492.40,599.94 493.07,601.67 494.40,603.58 C495.73,605.49 497.73,608.59 498.40,609.59" fill="none" stroke="#f0a030" stroke-width="1.15" stroke-linejoin="round"/>
<path d="M450.40,587.75 C452.40,587.75 459.73,587.56 462.40,587.75 C465.07,587.93 465.07,587.11 466.40,588.84 C467.73,590.57 469.07,595.12 470.40,598.12 C471.73,601.12 473.07,605.22 474.40,606.86 C475.73,608.49 475.73,607.77 478.40,607.95 C481.07,608.13 487.07,607.95 490.40,607.95 C493.73,607.95 497.07,607.95 498.40,607.95" fill="none" stroke="#c0102e" stroke-width="1.15" stroke-linejoin="round"/>
<path d="M450.40,587.75 C453.07,587.93 463.07,588.02 466.40,588.84 C469.73,589.66 469.07,591.02 470.40,592.66 C471.73,594.30 473.07,596.66 474.40,598.67 C475.73,600.67 477.07,602.94 478.40,604.67 C479.73,606.40 480.40,608.13 482.40,609.04 C484.40,609.95 487.73,609.86 490.40,610.13 C493.07,610.40 497.07,610.59 498.40,610.68" fill="none" stroke="#1a4a80" stroke-width="1.15" stroke-linejoin="round"/>
<rect x="444.60" y="585.90" width="2.60" height="2.60" fill="#1a4a80"/>
<rect x="465.10" y="589.18" width="2.60" height="2.60" fill="#1a4a80"/>
<rect x="473.10" y="597.37" width="2.60" height="2.60" fill="#1a4a80"/>
<rect x="481.10" y="608.29" width="2.60" height="2.60" fill="#1a4a80"/>
<rect x="489.10" y="608.83" width="2.60" height="2.60" fill="#1a4a80"/>
<rect x="497.10" y="609.38" width="2.60" height="2.60" fill="#1a4a80"/>
<circle cx="474.40" cy="606.86" r="1.3" fill="#c0102e"/>
<circle cx="482.40" cy="607.95" r="1.3" fill="#c0102e"/>
<circle cx="490.40" cy="608.49" r="1.3" fill="#c0102e"/>
<circle cx="498.40" cy="609.04" r="1.3" fill="#c0102e"/>
<circle cx="474.40" cy="592.11" r="1.3" fill="#f0a030"/>
<circle cx="482.40" cy="591.57" r="1.3" fill="#f0a030"/>
<line x1="440.80" y1="555.40" x2="440.80" y2="615.10" stroke="#222" stroke-width="1.2"/>
<line x1="440.20" y1="614.50" x2="447.50" y2="614.50" stroke="#222" stroke-width="1.2"/>
<line x1="449.80" y1="614.50" x2="507.20" y2="614.50" stroke="#222" stroke-width="1.2"/>
<line x1="445.90" y1="614.50" x2="445.90" y2="617.10" stroke="#222" stroke-width="0.9"/>
<line x1="450.40" y1="614.50" x2="450.40" y2="617.10" stroke="#222" stroke-width="0.9"/>
<line x1="458.40" y1="614.50" x2="458.40" y2="617.10" stroke="#222" stroke-width="0.9"/>
<line x1="466.40" y1="614.50" x2="466.40" y2="617.10" stroke="#222" stroke-width="0.9"/>
<line x1="474.40" y1="614.50" x2="474.40" y2="617.10" stroke="#222" stroke-width="0.9"/>
<line x1="482.40" y1="614.50" x2="482.40" y2="617.10" stroke="#222" stroke-width="0.9"/>
<line x1="490.40" y1="614.50" x2="490.40" y2="617.10" stroke="#222" stroke-width="0.9"/>
<line x1="498.40" y1="614.50" x2="498.40" y2="617.10" stroke="#222" stroke-width="0.9"/>
<line x1="506.40" y1="614.50" x2="506.40" y2="617.10" stroke="#222" stroke-width="0.9"/>
<line x1="437.80" y1="614.50" x2="440.80" y2="614.50" stroke="#222" stroke-width="0.9"/>
<text x="435.50" y="616.70" font-size="6.4" fill="#262626" stroke="#262626" stroke-width="0.2" text-anchor="end">0</text>
<line x1="437.80" y1="603.58" x2="440.80" y2="603.58" stroke="#222" stroke-width="0.9"/>
<text x="435.50" y="605.78" font-size="6.4" fill="#262626" stroke="#262626" stroke-width="0.2" text-anchor="end">20</text>
<line x1="437.80" y1="592.66" x2="440.80" y2="592.66" stroke="#222" stroke-width="0.9"/>
<text x="435.50" y="594.86" font-size="6.4" fill="#262626" stroke="#262626" stroke-width="0.2" text-anchor="end">40</text>
<line x1="437.80" y1="581.74" x2="440.80" y2="581.74" stroke="#222" stroke-width="0.9"/>
<text x="435.50" y="583.94" font-size="6.4" fill="#262626" stroke="#262626" stroke-width="0.2" text-anchor="end">60</text>
<line x1="437.80" y1="570.82" x2="440.80" y2="570.82" stroke="#222" stroke-width="0.9"/>
<text x="435.50" y="573.02" font-size="6.4" fill="#262626" stroke="#262626" stroke-width="0.2" text-anchor="end">80</text>
<line x1="437.80" y1="559.90" x2="440.80" y2="559.90" stroke="#222" stroke-width="0.9"/>
<text x="435.50" y="562.10" font-size="6.4" fill="#262626" stroke="#262626" stroke-width="0.2" text-anchor="end">100</text>
<text transform="translate(447.30,623.90) rotate(-45)" font-size="6.1" fill="#262626" stroke="#262626" stroke-width="0.15" text-anchor="end">UN</text>
<text transform="translate(452.80,623.90) rotate(-45)" font-size="6.1" fill="#262626" stroke="#262626" stroke-width="0.15" text-anchor="end">-5</text>
<text transform="translate(460.80,623.90) rotate(-45)" font-size="6.1" fill="#262626" stroke="#262626" stroke-width="0.15" text-anchor="end">-4</text>
<text transform="translate(468.80,623.90) rotate(-45)" font-size="6.1" fill="#262626" stroke="#262626" stroke-width="0.15" text-anchor="end">-3</text>
<text transform="translate(476.80,623.90) rotate(-45)" font-size="6.1" fill="#262626" stroke="#262626" stroke-width="0.15" text-anchor="end">-2</text>
<text transform="translate(484.80,623.90) rotate(-45)" font-size="6.1" fill="#262626" stroke="#262626" stroke-width="0.15" text-anchor="end">-1</text>
<text transform="translate(492.80,623.90) rotate(-45)" font-size="6.1" fill="#262626" stroke="#262626" stroke-width="0.15" text-anchor="end">0</text>
<text transform="translate(500.80,623.90) rotate(-45)" font-size="6.1" fill="#262626" stroke="#262626" stroke-width="0.15" text-anchor="end">1</text>
<text transform="translate(508.80,623.90) rotate(-45)" font-size="6.1" fill="#262626" stroke="#262626" stroke-width="0.15" text-anchor="end">2</text>
<text transform="translate(421.00,585.45) rotate(-90)" font-size="7.7" fill="#262626" stroke="#262626" stroke-width="0.32" text-anchor="middle" textLength="56.8" lengthAdjust="spacingAndGlyphs">Percentage of live cells</text>
<text x="475.20" y="638.00" font-size="7.4" fill="#262626" stroke="#262626" stroke-width="0.32" text-anchor="middle" textLength="43.3" lengthAdjust="spacingAndGlyphs">Log [Conc (μM)]</text>
<line x1="488.00" y1="444.30" x2="496.80" y2="444.30" stroke="#c0102e" stroke-width="1.0"/>
<circle cx="492.40" cy="444.30" r="1.1" fill="#c0102e"/>
<text x="499.60" y="446.30" font-size="5.6" fill="#333" stroke="#333" stroke-width="0.2" textLength="9" lengthAdjust="spacingAndGlyphs">Ven</text>
<line x1="488.00" y1="450.70" x2="496.80" y2="450.70" stroke="#1a4a80" stroke-width="1.0"/>
<circle cx="492.40" cy="450.70" r="1.1" fill="#1a4a80"/>
<text x="499.60" y="452.70" font-size="5.6" fill="#333" stroke="#333" stroke-width="0.2" textLength="9" lengthAdjust="spacingAndGlyphs">Nav</text>
<line x1="488.00" y1="457.10" x2="496.80" y2="457.10" stroke="#f0a030" stroke-width="1.0"/>
<circle cx="492.40" cy="457.10" r="1.1" fill="#f0a030"/>
<text x="499.60" y="459.10" font-size="5.6" fill="#333" stroke="#333" stroke-width="0.2" textLength="11.5" lengthAdjust="spacingAndGlyphs">A-13</text>
<rect x="0" y="0" width="520" height="1" fill="#686868"/><rect x="0" y="0" width="1" height="648" fill="#5e5e5e"/><rect x="519" y="0" width="1" height="648" fill="#858585"/><rect x="0" y="647" width="520" height="1" fill="#525252"/>
</svg></body></html>
